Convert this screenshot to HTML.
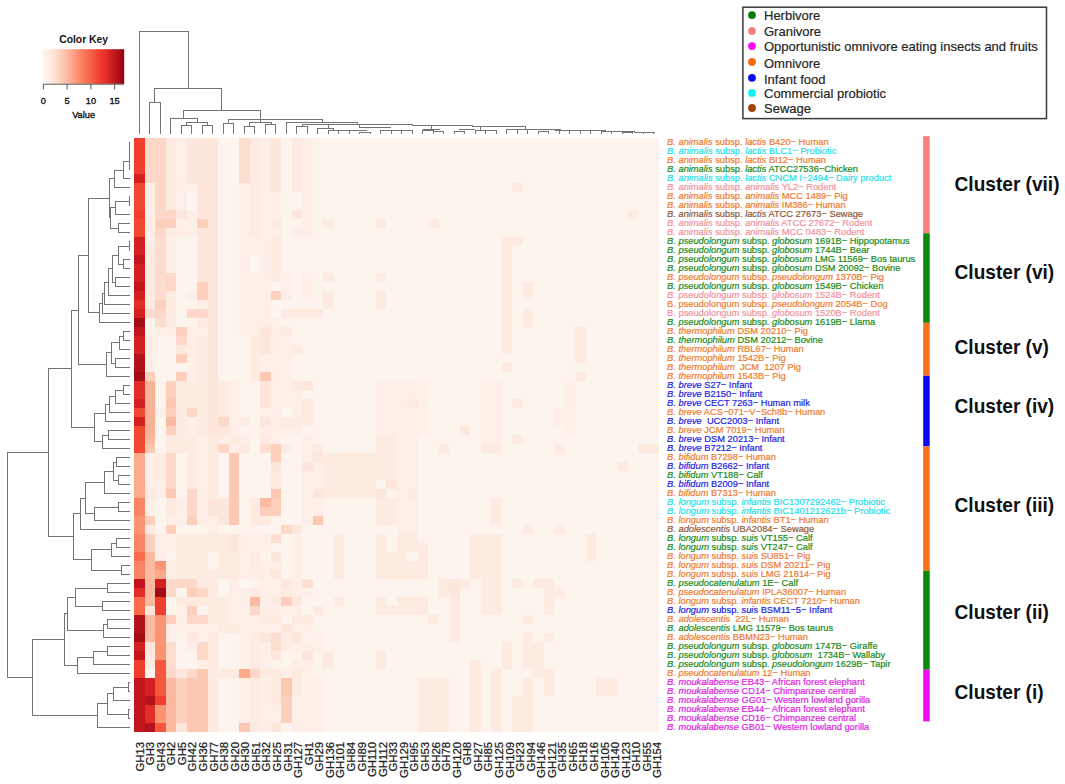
<!DOCTYPE html><html><head><meta charset="utf-8"><style>
html,body{margin:0;padding:0;background:#fff;width:1065px;height:784px;overflow:hidden}
svg{display:block} text{font-family:"Liberation Sans",sans-serif}
</style></head><body>
<svg width="1065" height="784" viewBox="0 0 1065 784">
<g shape-rendering="crispEdges">
<rect x="134.20" y="137.50" width="10.50" height="9.00" fill="#EF3E2E"/>
<rect x="144.70" y="137.50" width="21.01" height="9.00" fill="#FDD8C8"/>
<rect x="165.71" y="137.50" width="10.50" height="9.00" fill="#FDEAE1"/>
<rect x="176.22" y="137.50" width="10.50" height="9.00" fill="#FDEFE8"/>
<rect x="186.72" y="137.50" width="31.51" height="9.00" fill="#FDE6DB"/>
<rect x="218.23" y="137.50" width="21.01" height="9.00" fill="#FDF4EE"/>
<rect x="239.24" y="137.50" width="10.50" height="9.00" fill="#FDDDD0"/>
<rect x="249.74" y="137.50" width="10.50" height="9.00" fill="#FDEAE1"/>
<rect x="260.25" y="137.50" width="10.50" height="9.00" fill="#FDEFE8"/>
<rect x="270.75" y="137.50" width="10.50" height="9.00" fill="#FDE6DB"/>
<rect x="281.26" y="137.50" width="10.50" height="9.00" fill="#FDF4EE"/>
<rect x="291.76" y="137.50" width="10.50" height="9.00" fill="#FDEAE1"/>
<rect x="302.26" y="137.50" width="10.50" height="9.00" fill="#FDEFE8"/>
<rect x="312.77" y="137.50" width="346.63" height="9.00" fill="#FDF4EE"/>
<rect x="134.20" y="146.50" width="10.50" height="9.00" fill="#EF3E2E"/>
<rect x="144.70" y="146.50" width="21.01" height="9.00" fill="#FDD8C8"/>
<rect x="165.71" y="146.50" width="10.50" height="9.00" fill="#FDEAE1"/>
<rect x="176.22" y="146.50" width="10.50" height="9.00" fill="#FDEFE8"/>
<rect x="186.72" y="146.50" width="31.51" height="9.00" fill="#FDE6DB"/>
<rect x="218.23" y="146.50" width="21.01" height="9.00" fill="#FDF4EE"/>
<rect x="239.24" y="146.50" width="10.50" height="9.00" fill="#FDDDD0"/>
<rect x="249.74" y="146.50" width="10.50" height="9.00" fill="#FDEAE1"/>
<rect x="260.25" y="146.50" width="10.50" height="9.00" fill="#FDEFE8"/>
<rect x="270.75" y="146.50" width="10.50" height="9.00" fill="#FDE6DB"/>
<rect x="281.26" y="146.50" width="10.50" height="9.00" fill="#FDF4EE"/>
<rect x="291.76" y="146.50" width="10.50" height="9.00" fill="#FDEAE1"/>
<rect x="302.26" y="146.50" width="10.50" height="9.00" fill="#FDEFE8"/>
<rect x="312.77" y="146.50" width="346.63" height="9.00" fill="#FDF4EE"/>
<rect x="134.20" y="155.50" width="10.50" height="9.00" fill="#EF3E2E"/>
<rect x="144.70" y="155.50" width="21.01" height="9.00" fill="#FDD8C8"/>
<rect x="165.71" y="155.50" width="10.50" height="9.00" fill="#FDEAE1"/>
<rect x="176.22" y="155.50" width="10.50" height="9.00" fill="#FDEFE8"/>
<rect x="186.72" y="155.50" width="31.51" height="9.00" fill="#FDE6DB"/>
<rect x="218.23" y="155.50" width="21.01" height="9.00" fill="#FDF4EE"/>
<rect x="239.24" y="155.50" width="10.50" height="9.00" fill="#FDDDD0"/>
<rect x="249.74" y="155.50" width="10.50" height="9.00" fill="#FDEAE1"/>
<rect x="260.25" y="155.50" width="10.50" height="9.00" fill="#FDEFE8"/>
<rect x="270.75" y="155.50" width="10.50" height="9.00" fill="#FDE6DB"/>
<rect x="281.26" y="155.50" width="10.50" height="9.00" fill="#FDF4EE"/>
<rect x="291.76" y="155.50" width="10.50" height="9.00" fill="#FDEAE1"/>
<rect x="302.26" y="155.50" width="10.50" height="9.00" fill="#FDEFE8"/>
<rect x="312.77" y="155.50" width="346.63" height="9.00" fill="#FDF4EE"/>
<rect x="134.20" y="164.50" width="10.50" height="9.00" fill="#EF3E2E"/>
<rect x="144.70" y="164.50" width="21.01" height="9.00" fill="#FDD8C8"/>
<rect x="165.71" y="164.50" width="10.50" height="9.00" fill="#FDEAE1"/>
<rect x="176.22" y="164.50" width="10.50" height="9.00" fill="#FDEFE8"/>
<rect x="186.72" y="164.50" width="31.51" height="9.00" fill="#FDE6DB"/>
<rect x="218.23" y="164.50" width="21.01" height="9.00" fill="#FDF4EE"/>
<rect x="239.24" y="164.50" width="10.50" height="9.00" fill="#FDDDD0"/>
<rect x="249.74" y="164.50" width="10.50" height="9.00" fill="#FDEAE1"/>
<rect x="260.25" y="164.50" width="10.50" height="9.00" fill="#FDEFE8"/>
<rect x="270.75" y="164.50" width="10.50" height="9.00" fill="#FDE6DB"/>
<rect x="281.26" y="164.50" width="10.50" height="9.00" fill="#FDF4EE"/>
<rect x="291.76" y="164.50" width="10.50" height="9.00" fill="#FDEAE1"/>
<rect x="302.26" y="164.50" width="10.50" height="9.00" fill="#FDEFE8"/>
<rect x="312.77" y="164.50" width="346.63" height="9.00" fill="#FDF4EE"/>
<rect x="134.20" y="173.50" width="10.50" height="9.00" fill="#D32020"/>
<rect x="144.70" y="173.50" width="21.01" height="9.00" fill="#FDD8C8"/>
<rect x="165.71" y="173.50" width="10.50" height="9.00" fill="#FDEAE1"/>
<rect x="176.22" y="173.50" width="10.50" height="9.00" fill="#FDEFE8"/>
<rect x="186.72" y="173.50" width="31.51" height="9.00" fill="#FDE6DB"/>
<rect x="218.23" y="173.50" width="21.01" height="9.00" fill="#FDF4EE"/>
<rect x="239.24" y="173.50" width="10.50" height="9.00" fill="#FDDDD0"/>
<rect x="249.74" y="173.50" width="10.50" height="9.00" fill="#FDEAE1"/>
<rect x="260.25" y="173.50" width="10.50" height="9.00" fill="#FDEFE8"/>
<rect x="270.75" y="173.50" width="10.50" height="9.00" fill="#FDE6DB"/>
<rect x="281.26" y="173.50" width="10.50" height="9.00" fill="#FDF4EE"/>
<rect x="291.76" y="173.50" width="10.50" height="9.00" fill="#FDEAE1"/>
<rect x="302.26" y="173.50" width="10.50" height="9.00" fill="#FDEFE8"/>
<rect x="312.77" y="173.50" width="346.63" height="9.00" fill="#FDF4EE"/>
<rect x="134.20" y="182.50" width="10.50" height="9.00" fill="#F24830"/>
<rect x="144.70" y="182.50" width="10.50" height="9.00" fill="#FDEFE8"/>
<rect x="155.21" y="182.50" width="10.50" height="9.00" fill="#FDD8C8"/>
<rect x="165.71" y="182.50" width="10.50" height="9.00" fill="#FDEAE1"/>
<rect x="176.22" y="182.50" width="21.01" height="9.00" fill="#FDEFE8"/>
<rect x="197.22" y="182.50" width="21.01" height="9.00" fill="#FDE6DB"/>
<rect x="218.23" y="182.50" width="21.01" height="9.00" fill="#FDF4EE"/>
<rect x="239.24" y="182.50" width="10.50" height="9.00" fill="#FDEFE8"/>
<rect x="249.74" y="182.50" width="10.50" height="9.00" fill="#FDEAE1"/>
<rect x="260.25" y="182.50" width="10.50" height="9.00" fill="#FDEFE8"/>
<rect x="270.75" y="182.50" width="10.50" height="9.00" fill="#FDE6DB"/>
<rect x="281.26" y="182.50" width="10.50" height="9.00" fill="#FDF4EE"/>
<rect x="291.76" y="182.50" width="10.50" height="9.00" fill="#FDEAE1"/>
<rect x="302.26" y="182.50" width="10.50" height="9.00" fill="#FDEFE8"/>
<rect x="312.77" y="182.50" width="199.58" height="9.00" fill="#FDF4EE"/>
<rect x="512.34" y="182.50" width="10.50" height="9.00" fill="#FDEAE1"/>
<rect x="522.85" y="182.50" width="136.55" height="9.00" fill="#FDF4EE"/>
<rect x="134.20" y="191.50" width="10.50" height="9.00" fill="#F24830"/>
<rect x="144.70" y="191.50" width="10.50" height="9.00" fill="#FDEFE8"/>
<rect x="155.21" y="191.50" width="10.50" height="9.00" fill="#FDD8C8"/>
<rect x="165.71" y="191.50" width="10.50" height="9.00" fill="#FDEAE1"/>
<rect x="176.22" y="191.50" width="10.50" height="9.00" fill="#FDEFE8"/>
<rect x="186.72" y="191.50" width="10.50" height="9.00" fill="#FFF6F2"/>
<rect x="197.22" y="191.50" width="21.01" height="9.00" fill="#FDE6DB"/>
<rect x="218.23" y="191.50" width="21.01" height="9.00" fill="#FDF4EE"/>
<rect x="239.24" y="191.50" width="10.50" height="9.00" fill="#FDEFE8"/>
<rect x="249.74" y="191.50" width="10.50" height="9.00" fill="#FDEAE1"/>
<rect x="260.25" y="191.50" width="21.01" height="9.00" fill="#FDEFE8"/>
<rect x="281.26" y="191.50" width="21.01" height="9.00" fill="#FDF4EE"/>
<rect x="302.26" y="191.50" width="10.50" height="9.00" fill="#FDEFE8"/>
<rect x="312.77" y="191.50" width="346.63" height="9.00" fill="#FDF4EE"/>
<rect x="134.20" y="200.50" width="10.50" height="9.00" fill="#F24830"/>
<rect x="144.70" y="200.50" width="10.50" height="9.00" fill="#FDEFE8"/>
<rect x="155.21" y="200.50" width="10.50" height="9.00" fill="#FDD8C8"/>
<rect x="165.71" y="200.50" width="10.50" height="9.00" fill="#FDEAE1"/>
<rect x="176.22" y="200.50" width="10.50" height="9.00" fill="#FDEFE8"/>
<rect x="186.72" y="200.50" width="10.50" height="9.00" fill="#FFF6F2"/>
<rect x="197.22" y="200.50" width="21.01" height="9.00" fill="#FDE6DB"/>
<rect x="218.23" y="200.50" width="21.01" height="9.00" fill="#FDF4EE"/>
<rect x="239.24" y="200.50" width="10.50" height="9.00" fill="#FDEFE8"/>
<rect x="249.74" y="200.50" width="10.50" height="9.00" fill="#FDEAE1"/>
<rect x="260.25" y="200.50" width="21.01" height="9.00" fill="#FDEFE8"/>
<rect x="281.26" y="200.50" width="21.01" height="9.00" fill="#FDF4EE"/>
<rect x="302.26" y="200.50" width="10.50" height="9.00" fill="#FDEFE8"/>
<rect x="312.77" y="200.50" width="346.63" height="9.00" fill="#FDF4EE"/>
<rect x="134.20" y="209.50" width="10.50" height="9.00" fill="#EF3E2E"/>
<rect x="144.70" y="209.50" width="10.50" height="9.00" fill="#FDEFE8"/>
<rect x="155.21" y="209.50" width="21.01" height="9.00" fill="#FDD8C8"/>
<rect x="176.22" y="209.50" width="10.50" height="9.00" fill="#FDE6DB"/>
<rect x="186.72" y="209.50" width="10.50" height="9.00" fill="#FDEFE8"/>
<rect x="197.22" y="209.50" width="21.01" height="9.00" fill="#FDE6DB"/>
<rect x="218.23" y="209.50" width="21.01" height="9.00" fill="#FDF4EE"/>
<rect x="239.24" y="209.50" width="10.50" height="9.00" fill="#FDEFE8"/>
<rect x="249.74" y="209.50" width="10.50" height="9.00" fill="#FDEAE1"/>
<rect x="260.25" y="209.50" width="21.01" height="9.00" fill="#FDEFE8"/>
<rect x="281.26" y="209.50" width="10.50" height="9.00" fill="#FDF4EE"/>
<rect x="291.76" y="209.50" width="10.50" height="9.00" fill="#FDE6DB"/>
<rect x="302.26" y="209.50" width="10.50" height="9.00" fill="#FDEFE8"/>
<rect x="312.77" y="209.50" width="315.12" height="9.00" fill="#FDF4EE"/>
<rect x="627.89" y="209.50" width="10.50" height="9.00" fill="#FDEAE1"/>
<rect x="638.39" y="209.50" width="21.01" height="9.00" fill="#FDF4EE"/>
<rect x="134.20" y="218.50" width="10.50" height="9.00" fill="#F24830"/>
<rect x="144.70" y="218.50" width="10.50" height="9.00" fill="#FDEFE8"/>
<rect x="155.21" y="218.50" width="21.01" height="9.00" fill="#FCD0BD"/>
<rect x="176.22" y="218.50" width="21.01" height="9.00" fill="#FDEFE8"/>
<rect x="197.22" y="218.50" width="10.50" height="9.00" fill="#FCD0BD"/>
<rect x="207.73" y="218.50" width="10.50" height="9.00" fill="#FDE6DB"/>
<rect x="218.23" y="218.50" width="21.01" height="9.00" fill="#FDF4EE"/>
<rect x="239.24" y="218.50" width="10.50" height="9.00" fill="#FDEFE8"/>
<rect x="249.74" y="218.50" width="10.50" height="9.00" fill="#FDEAE1"/>
<rect x="260.25" y="218.50" width="10.50" height="9.00" fill="#FDEFE8"/>
<rect x="270.75" y="218.50" width="10.50" height="9.00" fill="#FDEAE1"/>
<rect x="281.26" y="218.50" width="21.01" height="9.00" fill="#FDF4EE"/>
<rect x="302.26" y="218.50" width="10.50" height="9.00" fill="#FDEFE8"/>
<rect x="312.77" y="218.50" width="10.50" height="9.00" fill="#FDF4EE"/>
<rect x="323.27" y="218.50" width="10.50" height="9.00" fill="#FDEAE1"/>
<rect x="333.78" y="218.50" width="42.02" height="9.00" fill="#FDF4EE"/>
<rect x="375.79" y="218.50" width="10.50" height="9.00" fill="#FDEAE1"/>
<rect x="386.30" y="218.50" width="42.02" height="9.00" fill="#FDF4EE"/>
<rect x="428.31" y="218.50" width="10.50" height="9.00" fill="#FDEAE1"/>
<rect x="438.82" y="218.50" width="220.58" height="9.00" fill="#FDF4EE"/>
<rect x="134.20" y="227.50" width="10.50" height="9.00" fill="#F24830"/>
<rect x="144.70" y="227.50" width="10.50" height="9.00" fill="#FDEFE8"/>
<rect x="155.21" y="227.50" width="10.50" height="9.00" fill="#FDD8C8"/>
<rect x="165.71" y="227.50" width="10.50" height="9.00" fill="#FDEAE1"/>
<rect x="176.22" y="227.50" width="21.01" height="9.00" fill="#FDEFE8"/>
<rect x="197.22" y="227.50" width="21.01" height="9.00" fill="#FDE6DB"/>
<rect x="218.23" y="227.50" width="21.01" height="9.00" fill="#FDF4EE"/>
<rect x="239.24" y="227.50" width="10.50" height="9.00" fill="#FDEFE8"/>
<rect x="249.74" y="227.50" width="10.50" height="9.00" fill="#FDEAE1"/>
<rect x="260.25" y="227.50" width="21.01" height="9.00" fill="#FDEFE8"/>
<rect x="281.26" y="227.50" width="10.50" height="9.00" fill="#FDF4EE"/>
<rect x="291.76" y="227.50" width="21.01" height="9.00" fill="#FDEFE8"/>
<rect x="312.77" y="227.50" width="346.63" height="9.00" fill="#FDF4EE"/>
<rect x="134.20" y="236.50" width="10.50" height="9.00" fill="#D32020"/>
<rect x="144.70" y="236.50" width="10.50" height="9.00" fill="#FDEFE8"/>
<rect x="155.21" y="236.50" width="10.50" height="9.00" fill="#FDDDD0"/>
<rect x="165.71" y="236.50" width="10.50" height="9.00" fill="#FDEFE8"/>
<rect x="176.22" y="236.50" width="21.01" height="9.00" fill="#FDF4EE"/>
<rect x="197.22" y="236.50" width="21.01" height="9.00" fill="#FDE6DB"/>
<rect x="218.23" y="236.50" width="21.01" height="9.00" fill="#FDF4EE"/>
<rect x="239.24" y="236.50" width="31.51" height="9.00" fill="#FDEFE8"/>
<rect x="270.75" y="236.50" width="10.50" height="9.00" fill="#FDEAE1"/>
<rect x="281.26" y="236.50" width="220.58" height="9.00" fill="#FDF4EE"/>
<rect x="501.84" y="236.50" width="21.01" height="9.00" fill="#FDEAE1"/>
<rect x="522.85" y="236.50" width="136.55" height="9.00" fill="#FDF4EE"/>
<rect x="134.20" y="245.50" width="10.50" height="9.00" fill="#D32020"/>
<rect x="144.70" y="245.50" width="10.50" height="9.00" fill="#FDEAE1"/>
<rect x="155.21" y="245.50" width="10.50" height="9.00" fill="#FDDDD0"/>
<rect x="165.71" y="245.50" width="10.50" height="9.00" fill="#FDEFE8"/>
<rect x="176.22" y="245.50" width="21.01" height="9.00" fill="#FDF4EE"/>
<rect x="197.22" y="245.50" width="21.01" height="9.00" fill="#FDE6DB"/>
<rect x="218.23" y="245.50" width="21.01" height="9.00" fill="#FDF4EE"/>
<rect x="239.24" y="245.50" width="31.51" height="9.00" fill="#FDEFE8"/>
<rect x="270.75" y="245.50" width="10.50" height="9.00" fill="#FDEAE1"/>
<rect x="281.26" y="245.50" width="220.58" height="9.00" fill="#FDF4EE"/>
<rect x="501.84" y="245.50" width="10.50" height="9.00" fill="#FDEAE1"/>
<rect x="512.34" y="245.50" width="147.06" height="9.00" fill="#FDF4EE"/>
<rect x="134.20" y="254.50" width="10.50" height="9.00" fill="#C2161C"/>
<rect x="144.70" y="254.50" width="10.50" height="9.00" fill="#FDEAE1"/>
<rect x="155.21" y="254.50" width="10.50" height="9.00" fill="#FDDDD0"/>
<rect x="165.71" y="254.50" width="10.50" height="9.00" fill="#FDEFE8"/>
<rect x="176.22" y="254.50" width="21.01" height="9.00" fill="#FDF4EE"/>
<rect x="197.22" y="254.50" width="21.01" height="9.00" fill="#FDE6DB"/>
<rect x="218.23" y="254.50" width="21.01" height="9.00" fill="#FDF4EE"/>
<rect x="239.24" y="254.50" width="10.50" height="9.00" fill="#FDEFE8"/>
<rect x="249.74" y="254.50" width="10.50" height="9.00" fill="#FFF6F2"/>
<rect x="260.25" y="254.50" width="10.50" height="9.00" fill="#FDEFE8"/>
<rect x="270.75" y="254.50" width="10.50" height="9.00" fill="#FDEAE1"/>
<rect x="281.26" y="254.50" width="220.58" height="9.00" fill="#FDF4EE"/>
<rect x="501.84" y="254.50" width="10.50" height="9.00" fill="#FDEAE1"/>
<rect x="512.34" y="254.50" width="147.06" height="9.00" fill="#FDF4EE"/>
<rect x="134.20" y="263.50" width="10.50" height="9.00" fill="#D32020"/>
<rect x="144.70" y="263.50" width="10.50" height="9.00" fill="#FDEAE1"/>
<rect x="155.21" y="263.50" width="10.50" height="9.00" fill="#FDDDD0"/>
<rect x="165.71" y="263.50" width="10.50" height="9.00" fill="#FDEFE8"/>
<rect x="176.22" y="263.50" width="21.01" height="9.00" fill="#FDF4EE"/>
<rect x="197.22" y="263.50" width="21.01" height="9.00" fill="#FDE6DB"/>
<rect x="218.23" y="263.50" width="21.01" height="9.00" fill="#FDF4EE"/>
<rect x="239.24" y="263.50" width="10.50" height="9.00" fill="#FDEFE8"/>
<rect x="249.74" y="263.50" width="10.50" height="9.00" fill="#FFF6F2"/>
<rect x="260.25" y="263.50" width="10.50" height="9.00" fill="#FDEFE8"/>
<rect x="270.75" y="263.50" width="10.50" height="9.00" fill="#FDEAE1"/>
<rect x="281.26" y="263.50" width="220.58" height="9.00" fill="#FDF4EE"/>
<rect x="501.84" y="263.50" width="10.50" height="9.00" fill="#FDEAE1"/>
<rect x="512.34" y="263.50" width="147.06" height="9.00" fill="#FDF4EE"/>
<rect x="134.20" y="272.50" width="10.50" height="9.00" fill="#D32020"/>
<rect x="144.70" y="272.50" width="10.50" height="9.00" fill="#FDEAE1"/>
<rect x="155.21" y="272.50" width="10.50" height="9.00" fill="#FDDDD0"/>
<rect x="165.71" y="272.50" width="10.50" height="9.00" fill="#FDD8C8"/>
<rect x="176.22" y="272.50" width="21.01" height="9.00" fill="#FDF4EE"/>
<rect x="197.22" y="272.50" width="21.01" height="9.00" fill="#FDE6DB"/>
<rect x="218.23" y="272.50" width="21.01" height="9.00" fill="#FDF4EE"/>
<rect x="239.24" y="272.50" width="31.51" height="9.00" fill="#FDEFE8"/>
<rect x="270.75" y="272.50" width="10.50" height="9.00" fill="#FDEAE1"/>
<rect x="281.26" y="272.50" width="10.50" height="9.00" fill="#FDEFE8"/>
<rect x="291.76" y="272.50" width="10.50" height="9.00" fill="#FDF4EE"/>
<rect x="302.26" y="272.50" width="10.50" height="9.00" fill="#FDEFE8"/>
<rect x="312.77" y="272.50" width="10.50" height="9.00" fill="#FDF4EE"/>
<rect x="323.27" y="272.50" width="10.50" height="9.00" fill="#FDEAE1"/>
<rect x="333.78" y="272.50" width="42.02" height="9.00" fill="#FDF4EE"/>
<rect x="375.79" y="272.50" width="10.50" height="9.00" fill="#FDEAE1"/>
<rect x="386.30" y="272.50" width="115.54" height="9.00" fill="#FDF4EE"/>
<rect x="501.84" y="272.50" width="10.50" height="9.00" fill="#FDEAE1"/>
<rect x="512.34" y="272.50" width="147.06" height="9.00" fill="#FDF4EE"/>
<rect x="134.20" y="281.50" width="10.50" height="9.00" fill="#C2161C"/>
<rect x="144.70" y="281.50" width="10.50" height="9.00" fill="#FDEAE1"/>
<rect x="155.21" y="281.50" width="10.50" height="9.00" fill="#FDDDD0"/>
<rect x="165.71" y="281.50" width="10.50" height="9.00" fill="#FDD8C8"/>
<rect x="176.22" y="281.50" width="21.01" height="9.00" fill="#FDF4EE"/>
<rect x="197.22" y="281.50" width="10.50" height="9.00" fill="#FCD0BD"/>
<rect x="207.73" y="281.50" width="10.50" height="9.00" fill="#FDE6DB"/>
<rect x="218.23" y="281.50" width="21.01" height="9.00" fill="#FDF4EE"/>
<rect x="239.24" y="281.50" width="31.51" height="9.00" fill="#FDEFE8"/>
<rect x="270.75" y="281.50" width="10.50" height="9.00" fill="#FFF6F2"/>
<rect x="281.26" y="281.50" width="10.50" height="9.00" fill="#FDEFE8"/>
<rect x="291.76" y="281.50" width="10.50" height="9.00" fill="#FDF4EE"/>
<rect x="302.26" y="281.50" width="10.50" height="9.00" fill="#FDEFE8"/>
<rect x="312.77" y="281.50" width="189.07" height="9.00" fill="#FDF4EE"/>
<rect x="501.84" y="281.50" width="10.50" height="9.00" fill="#FDEAE1"/>
<rect x="512.34" y="281.50" width="10.50" height="9.00" fill="#FDF4EE"/>
<rect x="522.85" y="281.50" width="10.50" height="9.00" fill="#FDEAE1"/>
<rect x="533.35" y="281.50" width="126.05" height="9.00" fill="#FDF4EE"/>
<rect x="134.20" y="290.50" width="10.50" height="9.00" fill="#D32020"/>
<rect x="144.70" y="290.50" width="10.50" height="9.00" fill="#FDEAE1"/>
<rect x="155.21" y="290.50" width="10.50" height="9.00" fill="#FDDDD0"/>
<rect x="165.71" y="290.50" width="10.50" height="9.00" fill="#FDEAE1"/>
<rect x="176.22" y="290.50" width="10.50" height="9.00" fill="#FDF4EE"/>
<rect x="186.72" y="290.50" width="10.50" height="9.00" fill="#FDEFE8"/>
<rect x="197.22" y="290.50" width="10.50" height="9.00" fill="#FCD0BD"/>
<rect x="207.73" y="290.50" width="10.50" height="9.00" fill="#FDE6DB"/>
<rect x="218.23" y="290.50" width="21.01" height="9.00" fill="#FDF4EE"/>
<rect x="239.24" y="290.50" width="31.51" height="9.00" fill="#FDEFE8"/>
<rect x="270.75" y="290.50" width="10.50" height="9.00" fill="#FCD0BD"/>
<rect x="281.26" y="290.50" width="10.50" height="9.00" fill="#FDEFE8"/>
<rect x="291.76" y="290.50" width="10.50" height="9.00" fill="#FDF4EE"/>
<rect x="302.26" y="290.50" width="10.50" height="9.00" fill="#FDEFE8"/>
<rect x="312.77" y="290.50" width="10.50" height="9.00" fill="#FDF4EE"/>
<rect x="323.27" y="290.50" width="10.50" height="9.00" fill="#FDEAE1"/>
<rect x="333.78" y="290.50" width="42.02" height="9.00" fill="#FDF4EE"/>
<rect x="375.79" y="290.50" width="10.50" height="9.00" fill="#FDEAE1"/>
<rect x="386.30" y="290.50" width="115.54" height="9.00" fill="#FDF4EE"/>
<rect x="501.84" y="290.50" width="10.50" height="9.00" fill="#FDEAE1"/>
<rect x="512.34" y="290.50" width="10.50" height="9.00" fill="#FDF4EE"/>
<rect x="522.85" y="290.50" width="10.50" height="9.00" fill="#FDEAE1"/>
<rect x="533.35" y="290.50" width="126.05" height="9.00" fill="#FDF4EE"/>
<rect x="134.20" y="299.50" width="10.50" height="9.00" fill="#E22E27"/>
<rect x="144.70" y="299.50" width="10.50" height="9.00" fill="#FDEAE1"/>
<rect x="155.21" y="299.50" width="10.50" height="9.00" fill="#FCD0BD"/>
<rect x="165.71" y="299.50" width="10.50" height="9.00" fill="#FDEAE1"/>
<rect x="176.22" y="299.50" width="21.01" height="9.00" fill="#FDF4EE"/>
<rect x="197.22" y="299.50" width="10.50" height="9.00" fill="#FDEFE8"/>
<rect x="207.73" y="299.50" width="10.50" height="9.00" fill="#FDE6DB"/>
<rect x="218.23" y="299.50" width="21.01" height="9.00" fill="#FDF4EE"/>
<rect x="239.24" y="299.50" width="31.51" height="9.00" fill="#FDEFE8"/>
<rect x="270.75" y="299.50" width="10.50" height="9.00" fill="#FFF6F2"/>
<rect x="281.26" y="299.50" width="42.02" height="9.00" fill="#FDF4EE"/>
<rect x="323.27" y="299.50" width="10.50" height="9.00" fill="#FDEAE1"/>
<rect x="333.78" y="299.50" width="42.02" height="9.00" fill="#FDF4EE"/>
<rect x="375.79" y="299.50" width="10.50" height="9.00" fill="#FDEAE1"/>
<rect x="386.30" y="299.50" width="115.54" height="9.00" fill="#FDF4EE"/>
<rect x="501.84" y="299.50" width="10.50" height="9.00" fill="#FDEAE1"/>
<rect x="512.34" y="299.50" width="147.06" height="9.00" fill="#FDF4EE"/>
<rect x="134.20" y="308.50" width="10.50" height="9.00" fill="#D32020"/>
<rect x="144.70" y="308.50" width="10.50" height="9.00" fill="#FDDDD0"/>
<rect x="155.21" y="308.50" width="10.50" height="9.00" fill="#FDD8C8"/>
<rect x="165.71" y="308.50" width="10.50" height="9.00" fill="#FDEAE1"/>
<rect x="176.22" y="308.50" width="10.50" height="9.00" fill="#FDF4EE"/>
<rect x="186.72" y="308.50" width="21.01" height="9.00" fill="#FDD8C8"/>
<rect x="207.73" y="308.50" width="10.50" height="9.00" fill="#FDE6DB"/>
<rect x="218.23" y="308.50" width="21.01" height="9.00" fill="#FDF4EE"/>
<rect x="239.24" y="308.50" width="31.51" height="9.00" fill="#FDEFE8"/>
<rect x="270.75" y="308.50" width="10.50" height="9.00" fill="#FFF6F2"/>
<rect x="281.26" y="308.50" width="42.02" height="9.00" fill="#FDEAE1"/>
<rect x="323.27" y="308.50" width="178.57" height="9.00" fill="#FDF4EE"/>
<rect x="501.84" y="308.50" width="10.50" height="9.00" fill="#FDEAE1"/>
<rect x="512.34" y="308.50" width="10.50" height="9.00" fill="#FDF4EE"/>
<rect x="522.85" y="308.50" width="10.50" height="9.00" fill="#FDEAE1"/>
<rect x="533.35" y="308.50" width="126.05" height="9.00" fill="#FDF4EE"/>
<rect x="134.20" y="317.50" width="10.50" height="9.00" fill="#A30D15"/>
<rect x="144.70" y="317.50" width="10.50" height="9.00" fill="#FDF4EE"/>
<rect x="155.21" y="317.50" width="10.50" height="9.00" fill="#FDDDD0"/>
<rect x="165.71" y="317.50" width="10.50" height="9.00" fill="#FDEAE1"/>
<rect x="176.22" y="317.50" width="21.01" height="9.00" fill="#FDF4EE"/>
<rect x="197.22" y="317.50" width="10.50" height="9.00" fill="#FDEAE1"/>
<rect x="207.73" y="317.50" width="10.50" height="9.00" fill="#FDE6DB"/>
<rect x="218.23" y="317.50" width="21.01" height="9.00" fill="#FDF4EE"/>
<rect x="239.24" y="317.50" width="42.02" height="9.00" fill="#FDEFE8"/>
<rect x="281.26" y="317.50" width="220.58" height="9.00" fill="#FDF4EE"/>
<rect x="501.84" y="317.50" width="10.50" height="9.00" fill="#FDEAE1"/>
<rect x="512.34" y="317.50" width="10.50" height="9.00" fill="#FDF4EE"/>
<rect x="522.85" y="317.50" width="10.50" height="9.00" fill="#FDEAE1"/>
<rect x="533.35" y="317.50" width="126.05" height="9.00" fill="#FDF4EE"/>
<rect x="134.20" y="326.50" width="10.50" height="9.00" fill="#C2161C"/>
<rect x="144.70" y="326.50" width="10.50" height="9.00" fill="#FDF4EE"/>
<rect x="155.21" y="326.50" width="21.01" height="9.00" fill="#FDEFE8"/>
<rect x="176.22" y="326.50" width="10.50" height="9.00" fill="#FCD0BD"/>
<rect x="186.72" y="326.50" width="21.01" height="9.00" fill="#FDEFE8"/>
<rect x="207.73" y="326.50" width="10.50" height="9.00" fill="#FDE6DB"/>
<rect x="218.23" y="326.50" width="21.01" height="9.00" fill="#FDF4EE"/>
<rect x="239.24" y="326.50" width="21.01" height="9.00" fill="#FDEFE8"/>
<rect x="260.25" y="326.50" width="10.50" height="9.00" fill="#FDE6DB"/>
<rect x="270.75" y="326.50" width="10.50" height="9.00" fill="#FDEFE8"/>
<rect x="281.26" y="326.50" width="10.50" height="9.00" fill="#FDEAE1"/>
<rect x="291.76" y="326.50" width="210.08" height="9.00" fill="#FDF4EE"/>
<rect x="501.84" y="326.50" width="10.50" height="9.00" fill="#FDEAE1"/>
<rect x="512.34" y="326.50" width="63.02" height="9.00" fill="#FDF4EE"/>
<rect x="575.37" y="326.50" width="10.50" height="9.00" fill="#FDEAE1"/>
<rect x="585.87" y="326.50" width="73.53" height="9.00" fill="#FDF4EE"/>
<rect x="134.20" y="335.50" width="10.50" height="9.00" fill="#D32020"/>
<rect x="144.70" y="335.50" width="10.50" height="9.00" fill="#FDEFE8"/>
<rect x="155.21" y="335.50" width="21.01" height="9.00" fill="#FDF4EE"/>
<rect x="176.22" y="335.50" width="10.50" height="9.00" fill="#FDD8C8"/>
<rect x="186.72" y="335.50" width="10.50" height="9.00" fill="#FDEFE8"/>
<rect x="197.22" y="335.50" width="10.50" height="9.00" fill="#FDEAE1"/>
<rect x="207.73" y="335.50" width="10.50" height="9.00" fill="#FDE6DB"/>
<rect x="218.23" y="335.50" width="31.51" height="9.00" fill="#FDF4EE"/>
<rect x="249.74" y="335.50" width="10.50" height="9.00" fill="#FDEAE1"/>
<rect x="260.25" y="335.50" width="10.50" height="9.00" fill="#FDE6DB"/>
<rect x="270.75" y="335.50" width="21.01" height="9.00" fill="#FDEFE8"/>
<rect x="291.76" y="335.50" width="210.08" height="9.00" fill="#FDF4EE"/>
<rect x="501.84" y="335.50" width="10.50" height="9.00" fill="#FDEAE1"/>
<rect x="512.34" y="335.50" width="63.02" height="9.00" fill="#FDF4EE"/>
<rect x="575.37" y="335.50" width="10.50" height="9.00" fill="#FDEAE1"/>
<rect x="585.87" y="335.50" width="73.53" height="9.00" fill="#FDF4EE"/>
<rect x="134.20" y="344.50" width="10.50" height="9.00" fill="#D32020"/>
<rect x="144.70" y="344.50" width="10.50" height="9.00" fill="#FDEFE8"/>
<rect x="155.21" y="344.50" width="21.01" height="9.00" fill="#FDF4EE"/>
<rect x="176.22" y="344.50" width="10.50" height="9.00" fill="#FDEAE1"/>
<rect x="186.72" y="344.50" width="10.50" height="9.00" fill="#FDEFE8"/>
<rect x="197.22" y="344.50" width="10.50" height="9.00" fill="#FDEAE1"/>
<rect x="207.73" y="344.50" width="10.50" height="9.00" fill="#FDE6DB"/>
<rect x="218.23" y="344.50" width="31.51" height="9.00" fill="#FDF4EE"/>
<rect x="249.74" y="344.50" width="10.50" height="9.00" fill="#FDEAE1"/>
<rect x="260.25" y="344.50" width="10.50" height="9.00" fill="#FDE6DB"/>
<rect x="270.75" y="344.50" width="21.01" height="9.00" fill="#FDEFE8"/>
<rect x="291.76" y="344.50" width="10.50" height="9.00" fill="#FDEAE1"/>
<rect x="302.26" y="344.50" width="199.58" height="9.00" fill="#FDF4EE"/>
<rect x="501.84" y="344.50" width="10.50" height="9.00" fill="#FDEAE1"/>
<rect x="512.34" y="344.50" width="63.02" height="9.00" fill="#FDF4EE"/>
<rect x="575.37" y="344.50" width="10.50" height="9.00" fill="#FDEAE1"/>
<rect x="585.87" y="344.50" width="73.53" height="9.00" fill="#FDF4EE"/>
<rect x="134.20" y="353.50" width="10.50" height="9.00" fill="#B21219"/>
<rect x="144.70" y="353.50" width="10.50" height="9.00" fill="#FDEFE8"/>
<rect x="155.21" y="353.50" width="21.01" height="9.00" fill="#FDF4EE"/>
<rect x="176.22" y="353.50" width="10.50" height="9.00" fill="#FCD0BD"/>
<rect x="186.72" y="353.50" width="10.50" height="9.00" fill="#FDEFE8"/>
<rect x="197.22" y="353.50" width="10.50" height="9.00" fill="#FDEAE1"/>
<rect x="207.73" y="353.50" width="10.50" height="9.00" fill="#FDE6DB"/>
<rect x="218.23" y="353.50" width="31.51" height="9.00" fill="#FDF4EE"/>
<rect x="249.74" y="353.50" width="10.50" height="9.00" fill="#FDEAE1"/>
<rect x="260.25" y="353.50" width="31.51" height="9.00" fill="#FDEFE8"/>
<rect x="291.76" y="353.50" width="283.61" height="9.00" fill="#FDF4EE"/>
<rect x="575.37" y="353.50" width="10.50" height="9.00" fill="#FDEAE1"/>
<rect x="585.87" y="353.50" width="73.53" height="9.00" fill="#FDF4EE"/>
<rect x="134.20" y="362.50" width="10.50" height="9.00" fill="#B21219"/>
<rect x="144.70" y="362.50" width="10.50" height="9.00" fill="#FDEFE8"/>
<rect x="155.21" y="362.50" width="31.51" height="9.00" fill="#FDF4EE"/>
<rect x="186.72" y="362.50" width="10.50" height="9.00" fill="#FDEFE8"/>
<rect x="197.22" y="362.50" width="10.50" height="9.00" fill="#FDEAE1"/>
<rect x="207.73" y="362.50" width="10.50" height="9.00" fill="#FDE6DB"/>
<rect x="218.23" y="362.50" width="31.51" height="9.00" fill="#FDF4EE"/>
<rect x="249.74" y="362.50" width="10.50" height="9.00" fill="#FDEAE1"/>
<rect x="260.25" y="362.50" width="31.51" height="9.00" fill="#FDEFE8"/>
<rect x="291.76" y="362.50" width="210.08" height="9.00" fill="#FDF4EE"/>
<rect x="501.84" y="362.50" width="10.50" height="9.00" fill="#FDEAE1"/>
<rect x="512.34" y="362.50" width="147.06" height="9.00" fill="#FDF4EE"/>
<rect x="134.20" y="371.50" width="10.50" height="9.00" fill="#A30D15"/>
<rect x="144.70" y="371.50" width="10.50" height="9.00" fill="#FCD0BD"/>
<rect x="155.21" y="371.50" width="21.01" height="9.00" fill="#FDF4EE"/>
<rect x="176.22" y="371.50" width="10.50" height="9.00" fill="#FCD0BD"/>
<rect x="186.72" y="371.50" width="10.50" height="9.00" fill="#FDEFE8"/>
<rect x="197.22" y="371.50" width="10.50" height="9.00" fill="#FDEAE1"/>
<rect x="207.73" y="371.50" width="10.50" height="9.00" fill="#FDE6DB"/>
<rect x="218.23" y="371.50" width="31.51" height="9.00" fill="#FDF4EE"/>
<rect x="249.74" y="371.50" width="10.50" height="9.00" fill="#FDEAE1"/>
<rect x="260.25" y="371.50" width="10.50" height="9.00" fill="#FCC8B2"/>
<rect x="270.75" y="371.50" width="21.01" height="9.00" fill="#FDEFE8"/>
<rect x="291.76" y="371.50" width="283.61" height="9.00" fill="#FDF4EE"/>
<rect x="575.37" y="371.50" width="10.50" height="9.00" fill="#FDEAE1"/>
<rect x="585.87" y="371.50" width="73.53" height="9.00" fill="#FDF4EE"/>
<rect x="134.20" y="380.50" width="10.50" height="9.00" fill="#E22E27"/>
<rect x="144.70" y="380.50" width="10.50" height="9.00" fill="#FCB296"/>
<rect x="155.21" y="380.50" width="10.50" height="9.00" fill="#FDF4EE"/>
<rect x="165.71" y="380.50" width="10.50" height="9.00" fill="#FCD0BD"/>
<rect x="176.22" y="380.50" width="31.51" height="9.00" fill="#FDEAE1"/>
<rect x="207.73" y="380.50" width="10.50" height="9.00" fill="#FDE6DB"/>
<rect x="218.23" y="380.50" width="10.50" height="9.00" fill="#FDEAE1"/>
<rect x="228.74" y="380.50" width="10.50" height="9.00" fill="#FDEFE8"/>
<rect x="239.24" y="380.50" width="21.01" height="9.00" fill="#FDF4EE"/>
<rect x="260.25" y="380.50" width="10.50" height="9.00" fill="#FDE6DB"/>
<rect x="270.75" y="380.50" width="21.01" height="9.00" fill="#FDEFE8"/>
<rect x="291.76" y="380.50" width="10.50" height="9.00" fill="#FDEAE1"/>
<rect x="302.26" y="380.50" width="10.50" height="9.00" fill="#FDE6DB"/>
<rect x="312.77" y="380.50" width="63.02" height="9.00" fill="#FDF4EE"/>
<rect x="375.79" y="380.50" width="52.52" height="9.00" fill="#FDEFE8"/>
<rect x="428.31" y="380.50" width="52.52" height="9.00" fill="#FDF4EE"/>
<rect x="480.83" y="380.50" width="21.01" height="9.00" fill="#FDEFE8"/>
<rect x="501.84" y="380.50" width="63.02" height="9.00" fill="#FDF4EE"/>
<rect x="564.86" y="380.50" width="10.50" height="9.00" fill="#FDEFE8"/>
<rect x="575.37" y="380.50" width="84.03" height="9.00" fill="#FDF4EE"/>
<rect x="134.20" y="389.50" width="10.50" height="9.00" fill="#E22E27"/>
<rect x="144.70" y="389.50" width="10.50" height="9.00" fill="#FCB296"/>
<rect x="155.21" y="389.50" width="10.50" height="9.00" fill="#FDF4EE"/>
<rect x="165.71" y="389.50" width="10.50" height="9.00" fill="#FCD0BD"/>
<rect x="176.22" y="389.50" width="31.51" height="9.00" fill="#FDEAE1"/>
<rect x="207.73" y="389.50" width="10.50" height="9.00" fill="#FDE6DB"/>
<rect x="218.23" y="389.50" width="10.50" height="9.00" fill="#FDEAE1"/>
<rect x="228.74" y="389.50" width="10.50" height="9.00" fill="#FDEFE8"/>
<rect x="239.24" y="389.50" width="21.01" height="9.00" fill="#FDF4EE"/>
<rect x="260.25" y="389.50" width="10.50" height="9.00" fill="#FDE6DB"/>
<rect x="270.75" y="389.50" width="31.51" height="9.00" fill="#FDEFE8"/>
<rect x="302.26" y="389.50" width="73.53" height="9.00" fill="#FDF4EE"/>
<rect x="375.79" y="389.50" width="52.52" height="9.00" fill="#FDEFE8"/>
<rect x="428.31" y="389.50" width="52.52" height="9.00" fill="#FDF4EE"/>
<rect x="480.83" y="389.50" width="21.01" height="9.00" fill="#FDEFE8"/>
<rect x="501.84" y="389.50" width="63.02" height="9.00" fill="#FDF4EE"/>
<rect x="564.86" y="389.50" width="10.50" height="9.00" fill="#FDEFE8"/>
<rect x="575.37" y="389.50" width="84.03" height="9.00" fill="#FDF4EE"/>
<rect x="134.20" y="398.50" width="10.50" height="9.00" fill="#D32020"/>
<rect x="144.70" y="398.50" width="10.50" height="9.00" fill="#FCB296"/>
<rect x="155.21" y="398.50" width="10.50" height="9.00" fill="#FDF4EE"/>
<rect x="165.71" y="398.50" width="10.50" height="9.00" fill="#FCC8B2"/>
<rect x="176.22" y="398.50" width="31.51" height="9.00" fill="#FDEAE1"/>
<rect x="207.73" y="398.50" width="10.50" height="9.00" fill="#FDE6DB"/>
<rect x="218.23" y="398.50" width="10.50" height="9.00" fill="#FDEAE1"/>
<rect x="228.74" y="398.50" width="10.50" height="9.00" fill="#FDEFE8"/>
<rect x="239.24" y="398.50" width="21.01" height="9.00" fill="#FDF4EE"/>
<rect x="260.25" y="398.50" width="10.50" height="9.00" fill="#FDE6DB"/>
<rect x="270.75" y="398.50" width="31.51" height="9.00" fill="#FDEFE8"/>
<rect x="302.26" y="398.50" width="10.50" height="9.00" fill="#FDEAE1"/>
<rect x="312.77" y="398.50" width="63.02" height="9.00" fill="#FDF4EE"/>
<rect x="375.79" y="398.50" width="31.51" height="9.00" fill="#FDEFE8"/>
<rect x="407.30" y="398.50" width="10.50" height="9.00" fill="#FDEAE1"/>
<rect x="417.81" y="398.50" width="10.50" height="9.00" fill="#FDEFE8"/>
<rect x="428.31" y="398.50" width="52.52" height="9.00" fill="#FDF4EE"/>
<rect x="480.83" y="398.50" width="21.01" height="9.00" fill="#FDEFE8"/>
<rect x="501.84" y="398.50" width="10.50" height="9.00" fill="#FDF4EE"/>
<rect x="512.34" y="398.50" width="10.50" height="9.00" fill="#FDEAE1"/>
<rect x="522.85" y="398.50" width="42.02" height="9.00" fill="#FDF4EE"/>
<rect x="564.86" y="398.50" width="10.50" height="9.00" fill="#FDEFE8"/>
<rect x="575.37" y="398.50" width="84.03" height="9.00" fill="#FDF4EE"/>
<rect x="134.20" y="407.50" width="10.50" height="9.00" fill="#F24830"/>
<rect x="144.70" y="407.50" width="10.50" height="9.00" fill="#FCB296"/>
<rect x="155.21" y="407.50" width="10.50" height="9.00" fill="#FDEFE8"/>
<rect x="165.71" y="407.50" width="10.50" height="9.00" fill="#FCD0BD"/>
<rect x="176.22" y="407.50" width="10.50" height="9.00" fill="#FDEAE1"/>
<rect x="186.72" y="407.50" width="10.50" height="9.00" fill="#FDD8C8"/>
<rect x="197.22" y="407.50" width="10.50" height="9.00" fill="#FDEAE1"/>
<rect x="207.73" y="407.50" width="10.50" height="9.00" fill="#FDE6DB"/>
<rect x="218.23" y="407.50" width="10.50" height="9.00" fill="#FDEAE1"/>
<rect x="228.74" y="407.50" width="10.50" height="9.00" fill="#FDEFE8"/>
<rect x="239.24" y="407.50" width="21.01" height="9.00" fill="#FDF4EE"/>
<rect x="260.25" y="407.50" width="21.01" height="9.00" fill="#FDEFE8"/>
<rect x="281.26" y="407.50" width="10.50" height="9.00" fill="#FFF6F2"/>
<rect x="291.76" y="407.50" width="10.50" height="9.00" fill="#FDEFE8"/>
<rect x="302.26" y="407.50" width="10.50" height="9.00" fill="#FDEAE1"/>
<rect x="312.77" y="407.50" width="63.02" height="9.00" fill="#FDF4EE"/>
<rect x="375.79" y="407.50" width="52.52" height="9.00" fill="#FDEFE8"/>
<rect x="428.31" y="407.50" width="52.52" height="9.00" fill="#FDF4EE"/>
<rect x="480.83" y="407.50" width="21.01" height="9.00" fill="#FDEFE8"/>
<rect x="501.84" y="407.50" width="52.52" height="9.00" fill="#FDF4EE"/>
<rect x="554.36" y="407.50" width="21.01" height="9.00" fill="#FDEFE8"/>
<rect x="575.37" y="407.50" width="84.03" height="9.00" fill="#FDF4EE"/>
<rect x="134.20" y="416.50" width="10.50" height="9.00" fill="#D32020"/>
<rect x="144.70" y="416.50" width="10.50" height="9.00" fill="#FCB296"/>
<rect x="155.21" y="416.50" width="10.50" height="9.00" fill="#FDF4EE"/>
<rect x="165.71" y="416.50" width="10.50" height="9.00" fill="#FCBBA1"/>
<rect x="176.22" y="416.50" width="10.50" height="9.00" fill="#FDEAE1"/>
<rect x="186.72" y="416.50" width="10.50" height="9.00" fill="#FDEFE8"/>
<rect x="197.22" y="416.50" width="10.50" height="9.00" fill="#FDEAE1"/>
<rect x="207.73" y="416.50" width="10.50" height="9.00" fill="#FDE6DB"/>
<rect x="218.23" y="416.50" width="10.50" height="9.00" fill="#FDD8C8"/>
<rect x="228.74" y="416.50" width="10.50" height="9.00" fill="#FDEFE8"/>
<rect x="239.24" y="416.50" width="10.50" height="9.00" fill="#FDEAE1"/>
<rect x="249.74" y="416.50" width="10.50" height="9.00" fill="#FDF4EE"/>
<rect x="260.25" y="416.50" width="10.50" height="9.00" fill="#FDE6DB"/>
<rect x="270.75" y="416.50" width="10.50" height="9.00" fill="#FDEFE8"/>
<rect x="281.26" y="416.50" width="31.51" height="9.00" fill="#FDEAE1"/>
<rect x="312.77" y="416.50" width="63.02" height="9.00" fill="#FDF4EE"/>
<rect x="375.79" y="416.50" width="52.52" height="9.00" fill="#FDEFE8"/>
<rect x="428.31" y="416.50" width="52.52" height="9.00" fill="#FDF4EE"/>
<rect x="480.83" y="416.50" width="21.01" height="9.00" fill="#FDEFE8"/>
<rect x="501.84" y="416.50" width="52.52" height="9.00" fill="#FDF4EE"/>
<rect x="554.36" y="416.50" width="21.01" height="9.00" fill="#FDEFE8"/>
<rect x="575.37" y="416.50" width="84.03" height="9.00" fill="#FDF4EE"/>
<rect x="134.20" y="425.50" width="10.50" height="9.00" fill="#F24830"/>
<rect x="144.70" y="425.50" width="10.50" height="9.00" fill="#FCB296"/>
<rect x="155.21" y="425.50" width="10.50" height="9.00" fill="#FDF4EE"/>
<rect x="165.71" y="425.50" width="10.50" height="9.00" fill="#FCD0BD"/>
<rect x="176.22" y="425.50" width="10.50" height="9.00" fill="#FDEAE1"/>
<rect x="186.72" y="425.50" width="10.50" height="9.00" fill="#FDEFE8"/>
<rect x="197.22" y="425.50" width="10.50" height="9.00" fill="#FDEAE1"/>
<rect x="207.73" y="425.50" width="21.01" height="9.00" fill="#FDE6DB"/>
<rect x="228.74" y="425.50" width="10.50" height="9.00" fill="#FDEFE8"/>
<rect x="239.24" y="425.50" width="21.01" height="9.00" fill="#FDF4EE"/>
<rect x="260.25" y="425.50" width="42.02" height="9.00" fill="#FDEFE8"/>
<rect x="302.26" y="425.50" width="73.53" height="9.00" fill="#FDF4EE"/>
<rect x="375.79" y="425.50" width="52.52" height="9.00" fill="#FDEFE8"/>
<rect x="428.31" y="425.50" width="31.51" height="9.00" fill="#FDF4EE"/>
<rect x="459.82" y="425.50" width="10.50" height="9.00" fill="#FDE6DB"/>
<rect x="470.33" y="425.50" width="10.50" height="9.00" fill="#FDF4EE"/>
<rect x="480.83" y="425.50" width="21.01" height="9.00" fill="#FDEFE8"/>
<rect x="501.84" y="425.50" width="63.02" height="9.00" fill="#FDF4EE"/>
<rect x="564.86" y="425.50" width="10.50" height="9.00" fill="#FDEFE8"/>
<rect x="575.37" y="425.50" width="84.03" height="9.00" fill="#FDF4EE"/>
<rect x="134.20" y="434.50" width="10.50" height="9.00" fill="#F24830"/>
<rect x="144.70" y="434.50" width="10.50" height="9.00" fill="#FCBBA1"/>
<rect x="155.21" y="434.50" width="10.50" height="9.00" fill="#FDF4EE"/>
<rect x="165.71" y="434.50" width="31.51" height="9.00" fill="#FDEAE1"/>
<rect x="197.22" y="434.50" width="10.50" height="9.00" fill="#FDEFE8"/>
<rect x="207.73" y="434.50" width="10.50" height="9.00" fill="#FDEAE1"/>
<rect x="218.23" y="434.50" width="10.50" height="9.00" fill="#FDEFE8"/>
<rect x="228.74" y="434.50" width="10.50" height="9.00" fill="#FDEAE1"/>
<rect x="239.24" y="434.50" width="10.50" height="9.00" fill="#FDEFE8"/>
<rect x="249.74" y="434.50" width="10.50" height="9.00" fill="#FDF4EE"/>
<rect x="260.25" y="434.50" width="10.50" height="9.00" fill="#FDEAE1"/>
<rect x="270.75" y="434.50" width="10.50" height="9.00" fill="#FDEFE8"/>
<rect x="281.26" y="434.50" width="21.01" height="9.00" fill="#FDF4EE"/>
<rect x="302.26" y="434.50" width="10.50" height="9.00" fill="#FDEFE8"/>
<rect x="312.77" y="434.50" width="63.02" height="9.00" fill="#FDF4EE"/>
<rect x="375.79" y="434.50" width="21.01" height="9.00" fill="#FDEAE1"/>
<rect x="396.80" y="434.50" width="21.01" height="9.00" fill="#FDEFE8"/>
<rect x="417.81" y="434.50" width="63.02" height="9.00" fill="#FDF4EE"/>
<rect x="480.83" y="434.50" width="21.01" height="9.00" fill="#FDEFE8"/>
<rect x="501.84" y="434.50" width="10.50" height="9.00" fill="#FDF4EE"/>
<rect x="512.34" y="434.50" width="10.50" height="9.00" fill="#FDEAE1"/>
<rect x="522.85" y="434.50" width="136.55" height="9.00" fill="#FDF4EE"/>
<rect x="134.20" y="443.50" width="10.50" height="9.00" fill="#F24830"/>
<rect x="144.70" y="443.50" width="10.50" height="9.00" fill="#FCC8B2"/>
<rect x="155.21" y="443.50" width="10.50" height="9.00" fill="#FDF4EE"/>
<rect x="165.71" y="443.50" width="31.51" height="9.00" fill="#FDEAE1"/>
<rect x="197.22" y="443.50" width="10.50" height="9.00" fill="#FDEFE8"/>
<rect x="207.73" y="443.50" width="10.50" height="9.00" fill="#FDEAE1"/>
<rect x="218.23" y="443.50" width="10.50" height="9.00" fill="#FDD8C8"/>
<rect x="228.74" y="443.50" width="10.50" height="9.00" fill="#FDEFE8"/>
<rect x="239.24" y="443.50" width="10.50" height="9.00" fill="#FDEAE1"/>
<rect x="249.74" y="443.50" width="10.50" height="9.00" fill="#FDF4EE"/>
<rect x="260.25" y="443.50" width="10.50" height="9.00" fill="#FDDDD0"/>
<rect x="270.75" y="443.50" width="10.50" height="9.00" fill="#FCD0BD"/>
<rect x="281.26" y="443.50" width="10.50" height="9.00" fill="#FDEAE1"/>
<rect x="291.76" y="443.50" width="10.50" height="9.00" fill="#FDF4EE"/>
<rect x="302.26" y="443.50" width="10.50" height="9.00" fill="#FDEFE8"/>
<rect x="312.77" y="443.50" width="10.50" height="9.00" fill="#FDEAE1"/>
<rect x="323.27" y="443.50" width="52.52" height="9.00" fill="#FDF4EE"/>
<rect x="375.79" y="443.50" width="21.01" height="9.00" fill="#FDEAE1"/>
<rect x="396.80" y="443.50" width="21.01" height="9.00" fill="#FDEFE8"/>
<rect x="417.81" y="443.50" width="21.01" height="9.00" fill="#FDF4EE"/>
<rect x="438.82" y="443.50" width="10.50" height="9.00" fill="#FDEAE1"/>
<rect x="449.32" y="443.50" width="31.51" height="9.00" fill="#FDF4EE"/>
<rect x="480.83" y="443.50" width="21.01" height="9.00" fill="#FDEAE1"/>
<rect x="501.84" y="443.50" width="52.52" height="9.00" fill="#FDF4EE"/>
<rect x="554.36" y="443.50" width="10.50" height="9.00" fill="#FDEAE1"/>
<rect x="564.86" y="443.50" width="73.53" height="9.00" fill="#FDF4EE"/>
<rect x="638.39" y="443.50" width="21.01" height="9.00" fill="#FDEAE1"/>
<rect x="134.20" y="452.50" width="10.50" height="9.00" fill="#FCA98C"/>
<rect x="144.70" y="452.50" width="10.50" height="9.00" fill="#FDEFE8"/>
<rect x="155.21" y="452.50" width="10.50" height="9.00" fill="#FDEAE1"/>
<rect x="165.71" y="452.50" width="10.50" height="9.00" fill="#FDD8C8"/>
<rect x="176.22" y="452.50" width="10.50" height="9.00" fill="#FDF4EE"/>
<rect x="186.72" y="452.50" width="10.50" height="9.00" fill="#FDEAE1"/>
<rect x="197.22" y="452.50" width="10.50" height="9.00" fill="#FDEFE8"/>
<rect x="207.73" y="452.50" width="10.50" height="9.00" fill="#FDEAE1"/>
<rect x="218.23" y="452.50" width="10.50" height="9.00" fill="#FDF4EE"/>
<rect x="228.74" y="452.50" width="10.50" height="9.00" fill="#FCC8B2"/>
<rect x="239.24" y="452.50" width="31.51" height="9.00" fill="#FDF4EE"/>
<rect x="270.75" y="452.50" width="10.50" height="9.00" fill="#FCD0BD"/>
<rect x="281.26" y="452.50" width="21.01" height="9.00" fill="#FDF4EE"/>
<rect x="302.26" y="452.50" width="10.50" height="9.00" fill="#FDEFE8"/>
<rect x="312.77" y="452.50" width="10.50" height="9.00" fill="#FDE6DB"/>
<rect x="323.27" y="452.50" width="73.53" height="9.00" fill="#FDEAE1"/>
<rect x="396.80" y="452.50" width="21.01" height="9.00" fill="#FDEFE8"/>
<rect x="417.81" y="452.50" width="241.59" height="9.00" fill="#FDF4EE"/>
<rect x="134.20" y="461.50" width="10.50" height="9.00" fill="#FCA98C"/>
<rect x="144.70" y="461.50" width="10.50" height="9.00" fill="#FDEFE8"/>
<rect x="155.21" y="461.50" width="10.50" height="9.00" fill="#FDEAE1"/>
<rect x="165.71" y="461.50" width="10.50" height="9.00" fill="#FDD8C8"/>
<rect x="176.22" y="461.50" width="10.50" height="9.00" fill="#FDF4EE"/>
<rect x="186.72" y="461.50" width="10.50" height="9.00" fill="#FDEAE1"/>
<rect x="197.22" y="461.50" width="10.50" height="9.00" fill="#FDEFE8"/>
<rect x="207.73" y="461.50" width="10.50" height="9.00" fill="#FDEAE1"/>
<rect x="218.23" y="461.50" width="10.50" height="9.00" fill="#FDF4EE"/>
<rect x="228.74" y="461.50" width="10.50" height="9.00" fill="#FCC8B2"/>
<rect x="239.24" y="461.50" width="31.51" height="9.00" fill="#FDF4EE"/>
<rect x="270.75" y="461.50" width="10.50" height="9.00" fill="#FDE6DB"/>
<rect x="281.26" y="461.50" width="21.01" height="9.00" fill="#FDF4EE"/>
<rect x="302.26" y="461.50" width="10.50" height="9.00" fill="#FDE6DB"/>
<rect x="312.77" y="461.50" width="10.50" height="9.00" fill="#FDEFE8"/>
<rect x="323.27" y="461.50" width="73.53" height="9.00" fill="#FDEAE1"/>
<rect x="396.80" y="461.50" width="21.01" height="9.00" fill="#FDEFE8"/>
<rect x="417.81" y="461.50" width="199.58" height="9.00" fill="#FDF4EE"/>
<rect x="617.38" y="461.50" width="10.50" height="9.00" fill="#FDEAE1"/>
<rect x="627.89" y="461.50" width="31.51" height="9.00" fill="#FDF4EE"/>
<rect x="134.20" y="470.50" width="10.50" height="9.00" fill="#FCA98C"/>
<rect x="144.70" y="470.50" width="10.50" height="9.00" fill="#FDEFE8"/>
<rect x="155.21" y="470.50" width="10.50" height="9.00" fill="#FDEAE1"/>
<rect x="165.71" y="470.50" width="10.50" height="9.00" fill="#FDD8C8"/>
<rect x="176.22" y="470.50" width="10.50" height="9.00" fill="#FDF4EE"/>
<rect x="186.72" y="470.50" width="10.50" height="9.00" fill="#FDEAE1"/>
<rect x="197.22" y="470.50" width="10.50" height="9.00" fill="#FDEFE8"/>
<rect x="207.73" y="470.50" width="10.50" height="9.00" fill="#FDEAE1"/>
<rect x="218.23" y="470.50" width="10.50" height="9.00" fill="#FDF4EE"/>
<rect x="228.74" y="470.50" width="10.50" height="9.00" fill="#FCC8B2"/>
<rect x="239.24" y="470.50" width="31.51" height="9.00" fill="#FDF4EE"/>
<rect x="270.75" y="470.50" width="10.50" height="9.00" fill="#FDEAE1"/>
<rect x="281.26" y="470.50" width="21.01" height="9.00" fill="#FDF4EE"/>
<rect x="302.26" y="470.50" width="21.01" height="9.00" fill="#FDEFE8"/>
<rect x="323.27" y="470.50" width="73.53" height="9.00" fill="#FDEAE1"/>
<rect x="396.80" y="470.50" width="21.01" height="9.00" fill="#FDEFE8"/>
<rect x="417.81" y="470.50" width="241.59" height="9.00" fill="#FDF4EE"/>
<rect x="134.20" y="479.50" width="10.50" height="9.00" fill="#FCA98C"/>
<rect x="144.70" y="479.50" width="21.01" height="9.00" fill="#FDEFE8"/>
<rect x="165.71" y="479.50" width="10.50" height="9.00" fill="#FDD8C8"/>
<rect x="176.22" y="479.50" width="10.50" height="9.00" fill="#FDF4EE"/>
<rect x="186.72" y="479.50" width="10.50" height="9.00" fill="#FDEAE1"/>
<rect x="197.22" y="479.50" width="10.50" height="9.00" fill="#FDEFE8"/>
<rect x="207.73" y="479.50" width="10.50" height="9.00" fill="#FDEAE1"/>
<rect x="218.23" y="479.50" width="10.50" height="9.00" fill="#FDF4EE"/>
<rect x="228.74" y="479.50" width="10.50" height="9.00" fill="#FCC8B2"/>
<rect x="239.24" y="479.50" width="31.51" height="9.00" fill="#FDF4EE"/>
<rect x="270.75" y="479.50" width="10.50" height="9.00" fill="#FDEAE1"/>
<rect x="281.26" y="479.50" width="21.01" height="9.00" fill="#FDF4EE"/>
<rect x="302.26" y="479.50" width="21.01" height="9.00" fill="#FDEFE8"/>
<rect x="323.27" y="479.50" width="52.52" height="9.00" fill="#FDEAE1"/>
<rect x="375.79" y="479.50" width="10.50" height="9.00" fill="#FDF4EE"/>
<rect x="386.30" y="479.50" width="10.50" height="9.00" fill="#FDE6DB"/>
<rect x="396.80" y="479.50" width="21.01" height="9.00" fill="#FDEFE8"/>
<rect x="417.81" y="479.50" width="241.59" height="9.00" fill="#FDF4EE"/>
<rect x="134.20" y="488.50" width="10.50" height="9.00" fill="#FCA98C"/>
<rect x="144.70" y="488.50" width="10.50" height="9.00" fill="#FDEAE1"/>
<rect x="155.21" y="488.50" width="10.50" height="9.00" fill="#FDEFE8"/>
<rect x="165.71" y="488.50" width="10.50" height="9.00" fill="#FCC8B2"/>
<rect x="176.22" y="488.50" width="10.50" height="9.00" fill="#FDF4EE"/>
<rect x="186.72" y="488.50" width="10.50" height="9.00" fill="#FDD8C8"/>
<rect x="197.22" y="488.50" width="10.50" height="9.00" fill="#FDEFE8"/>
<rect x="207.73" y="488.50" width="10.50" height="9.00" fill="#FDEAE1"/>
<rect x="218.23" y="488.50" width="10.50" height="9.00" fill="#FDF4EE"/>
<rect x="228.74" y="488.50" width="10.50" height="9.00" fill="#FCC8B2"/>
<rect x="239.24" y="488.50" width="31.51" height="9.00" fill="#FDF4EE"/>
<rect x="270.75" y="488.50" width="10.50" height="9.00" fill="#FCC8B2"/>
<rect x="281.26" y="488.50" width="21.01" height="9.00" fill="#FDF4EE"/>
<rect x="302.26" y="488.50" width="10.50" height="9.00" fill="#FDEFE8"/>
<rect x="312.77" y="488.50" width="10.50" height="9.00" fill="#FDE6DB"/>
<rect x="323.27" y="488.50" width="52.52" height="9.00" fill="#FDEAE1"/>
<rect x="375.79" y="488.50" width="10.50" height="9.00" fill="#FDE6DB"/>
<rect x="386.30" y="488.50" width="10.50" height="9.00" fill="#FDF4EE"/>
<rect x="396.80" y="488.50" width="10.50" height="9.00" fill="#FDEFE8"/>
<rect x="407.30" y="488.50" width="10.50" height="9.00" fill="#FDEAE1"/>
<rect x="417.81" y="488.50" width="241.59" height="9.00" fill="#FDF4EE"/>
<rect x="134.20" y="497.50" width="10.50" height="9.00" fill="#FB8464"/>
<rect x="144.70" y="497.50" width="10.50" height="9.00" fill="#FDEFE8"/>
<rect x="155.21" y="497.50" width="10.50" height="9.00" fill="#FDF4EE"/>
<rect x="165.71" y="497.50" width="10.50" height="9.00" fill="#FDEAE1"/>
<rect x="176.22" y="497.50" width="10.50" height="9.00" fill="#FDEFE8"/>
<rect x="186.72" y="497.50" width="10.50" height="9.00" fill="#FDD8C8"/>
<rect x="197.22" y="497.50" width="10.50" height="9.00" fill="#FDEFE8"/>
<rect x="207.73" y="497.50" width="21.01" height="9.00" fill="#FDE6DB"/>
<rect x="228.74" y="497.50" width="10.50" height="9.00" fill="#FCC8B2"/>
<rect x="239.24" y="497.50" width="10.50" height="9.00" fill="#FDF4EE"/>
<rect x="249.74" y="497.50" width="10.50" height="9.00" fill="#FDEAE1"/>
<rect x="260.25" y="497.50" width="10.50" height="9.00" fill="#FCBBA1"/>
<rect x="270.75" y="497.50" width="10.50" height="9.00" fill="#FCD0BD"/>
<rect x="281.26" y="497.50" width="21.01" height="9.00" fill="#FDF4EE"/>
<rect x="302.26" y="497.50" width="21.01" height="9.00" fill="#FDEFE8"/>
<rect x="323.27" y="497.50" width="52.52" height="9.00" fill="#FDF4EE"/>
<rect x="375.79" y="497.50" width="21.01" height="9.00" fill="#FDEAE1"/>
<rect x="396.80" y="497.50" width="21.01" height="9.00" fill="#FDEFE8"/>
<rect x="417.81" y="497.50" width="73.53" height="9.00" fill="#FDF4EE"/>
<rect x="491.34" y="497.50" width="10.50" height="9.00" fill="#FDEAE1"/>
<rect x="501.84" y="497.50" width="157.56" height="9.00" fill="#FDF4EE"/>
<rect x="134.20" y="506.50" width="10.50" height="9.00" fill="#FB8464"/>
<rect x="144.70" y="506.50" width="10.50" height="9.00" fill="#FDEFE8"/>
<rect x="155.21" y="506.50" width="10.50" height="9.00" fill="#FDF4EE"/>
<rect x="165.71" y="506.50" width="10.50" height="9.00" fill="#FDEAE1"/>
<rect x="176.22" y="506.50" width="10.50" height="9.00" fill="#FDEFE8"/>
<rect x="186.72" y="506.50" width="10.50" height="9.00" fill="#FDD8C8"/>
<rect x="197.22" y="506.50" width="10.50" height="9.00" fill="#FDEFE8"/>
<rect x="207.73" y="506.50" width="21.01" height="9.00" fill="#FDE6DB"/>
<rect x="228.74" y="506.50" width="10.50" height="9.00" fill="#FCC8B2"/>
<rect x="239.24" y="506.50" width="10.50" height="9.00" fill="#FDF4EE"/>
<rect x="249.74" y="506.50" width="10.50" height="9.00" fill="#FDEAE1"/>
<rect x="260.25" y="506.50" width="21.01" height="9.00" fill="#FCD0BD"/>
<rect x="281.26" y="506.50" width="21.01" height="9.00" fill="#FDF4EE"/>
<rect x="302.26" y="506.50" width="21.01" height="9.00" fill="#FDEFE8"/>
<rect x="323.27" y="506.50" width="52.52" height="9.00" fill="#FDF4EE"/>
<rect x="375.79" y="506.50" width="21.01" height="9.00" fill="#FDEAE1"/>
<rect x="396.80" y="506.50" width="21.01" height="9.00" fill="#FDEFE8"/>
<rect x="417.81" y="506.50" width="73.53" height="9.00" fill="#FDF4EE"/>
<rect x="491.34" y="506.50" width="10.50" height="9.00" fill="#FDEAE1"/>
<rect x="501.84" y="506.50" width="157.56" height="9.00" fill="#FDF4EE"/>
<rect x="134.20" y="515.50" width="10.50" height="9.00" fill="#FC9474"/>
<rect x="144.70" y="515.50" width="10.50" height="9.00" fill="#FCD0BD"/>
<rect x="155.21" y="515.50" width="10.50" height="9.00" fill="#FDF4EE"/>
<rect x="165.71" y="515.50" width="21.01" height="9.00" fill="#FDEFE8"/>
<rect x="186.72" y="515.50" width="10.50" height="9.00" fill="#FCD0BD"/>
<rect x="197.22" y="515.50" width="21.01" height="9.00" fill="#FDEFE8"/>
<rect x="218.23" y="515.50" width="10.50" height="9.00" fill="#FDE6DB"/>
<rect x="228.74" y="515.50" width="10.50" height="9.00" fill="#FCC8B2"/>
<rect x="239.24" y="515.50" width="10.50" height="9.00" fill="#FDF4EE"/>
<rect x="249.74" y="515.50" width="21.01" height="9.00" fill="#FDEAE1"/>
<rect x="270.75" y="515.50" width="31.51" height="9.00" fill="#FDF4EE"/>
<rect x="302.26" y="515.50" width="10.50" height="9.00" fill="#FDEFE8"/>
<rect x="312.77" y="515.50" width="10.50" height="9.00" fill="#FCC8B2"/>
<rect x="323.27" y="515.50" width="52.52" height="9.00" fill="#FDF4EE"/>
<rect x="375.79" y="515.50" width="21.01" height="9.00" fill="#FDEAE1"/>
<rect x="396.80" y="515.50" width="21.01" height="9.00" fill="#FDEFE8"/>
<rect x="417.81" y="515.50" width="73.53" height="9.00" fill="#FDF4EE"/>
<rect x="491.34" y="515.50" width="10.50" height="9.00" fill="#FDEAE1"/>
<rect x="501.84" y="515.50" width="157.56" height="9.00" fill="#FDF4EE"/>
<rect x="134.20" y="524.50" width="10.50" height="9.00" fill="#FC9474"/>
<rect x="144.70" y="524.50" width="10.50" height="9.00" fill="#FDEAE1"/>
<rect x="155.21" y="524.50" width="10.50" height="9.00" fill="#FDF4EE"/>
<rect x="165.71" y="524.50" width="10.50" height="9.00" fill="#FCD0BD"/>
<rect x="176.22" y="524.50" width="31.51" height="9.00" fill="#FDF4EE"/>
<rect x="207.73" y="524.50" width="10.50" height="9.00" fill="#FDEFE8"/>
<rect x="218.23" y="524.50" width="63.02" height="9.00" fill="#FDF4EE"/>
<rect x="281.26" y="524.50" width="10.50" height="9.00" fill="#FDD8C8"/>
<rect x="291.76" y="524.50" width="10.50" height="9.00" fill="#FDE6DB"/>
<rect x="302.26" y="524.50" width="94.54" height="9.00" fill="#FDF4EE"/>
<rect x="396.80" y="524.50" width="21.01" height="9.00" fill="#FDEFE8"/>
<rect x="417.81" y="524.50" width="105.04" height="9.00" fill="#FDF4EE"/>
<rect x="522.85" y="524.50" width="10.50" height="9.00" fill="#FDEAE1"/>
<rect x="533.35" y="524.50" width="21.01" height="9.00" fill="#FDF4EE"/>
<rect x="554.36" y="524.50" width="10.50" height="9.00" fill="#FDEAE1"/>
<rect x="564.86" y="524.50" width="94.54" height="9.00" fill="#FDF4EE"/>
<rect x="134.20" y="533.50" width="10.50" height="9.00" fill="#FB8464"/>
<rect x="144.70" y="533.50" width="10.50" height="9.00" fill="#FCD0BD"/>
<rect x="155.21" y="533.50" width="21.01" height="9.00" fill="#FDEFE8"/>
<rect x="176.22" y="533.50" width="52.52" height="9.00" fill="#FDEAE1"/>
<rect x="228.74" y="533.50" width="10.50" height="9.00" fill="#FDE6DB"/>
<rect x="239.24" y="533.50" width="31.51" height="9.00" fill="#FDEFE8"/>
<rect x="270.75" y="533.50" width="10.50" height="9.00" fill="#FDDDD0"/>
<rect x="281.26" y="533.50" width="10.50" height="9.00" fill="#FDF4EE"/>
<rect x="291.76" y="533.50" width="10.50" height="9.00" fill="#FDEFE8"/>
<rect x="302.26" y="533.50" width="31.51" height="9.00" fill="#FDF4EE"/>
<rect x="333.78" y="533.50" width="10.50" height="9.00" fill="#FDEAE1"/>
<rect x="344.28" y="533.50" width="31.51" height="9.00" fill="#FDF4EE"/>
<rect x="375.79" y="533.50" width="10.50" height="9.00" fill="#FDEAE1"/>
<rect x="386.30" y="533.50" width="10.50" height="9.00" fill="#FDF4EE"/>
<rect x="396.80" y="533.50" width="21.01" height="9.00" fill="#FDEAE1"/>
<rect x="417.81" y="533.50" width="52.52" height="9.00" fill="#FDF4EE"/>
<rect x="470.33" y="533.50" width="31.51" height="9.00" fill="#FDEAE1"/>
<rect x="501.84" y="533.50" width="84.03" height="9.00" fill="#FDF4EE"/>
<rect x="585.87" y="533.50" width="10.50" height="9.00" fill="#FDEAE1"/>
<rect x="596.38" y="533.50" width="63.02" height="9.00" fill="#FDF4EE"/>
<rect x="134.20" y="542.50" width="10.50" height="9.00" fill="#FB8464"/>
<rect x="144.70" y="542.50" width="10.50" height="9.00" fill="#FCD0BD"/>
<rect x="155.21" y="542.50" width="21.01" height="9.00" fill="#FDEFE8"/>
<rect x="176.22" y="542.50" width="52.52" height="9.00" fill="#FDEAE1"/>
<rect x="228.74" y="542.50" width="10.50" height="9.00" fill="#FDE6DB"/>
<rect x="239.24" y="542.50" width="31.51" height="9.00" fill="#FDEFE8"/>
<rect x="270.75" y="542.50" width="21.01" height="9.00" fill="#FDF4EE"/>
<rect x="291.76" y="542.50" width="10.50" height="9.00" fill="#FDEFE8"/>
<rect x="302.26" y="542.50" width="31.51" height="9.00" fill="#FDF4EE"/>
<rect x="333.78" y="542.50" width="10.50" height="9.00" fill="#FDEAE1"/>
<rect x="344.28" y="542.50" width="31.51" height="9.00" fill="#FDF4EE"/>
<rect x="375.79" y="542.50" width="10.50" height="9.00" fill="#FDEAE1"/>
<rect x="386.30" y="542.50" width="10.50" height="9.00" fill="#FDF4EE"/>
<rect x="396.80" y="542.50" width="31.51" height="9.00" fill="#FDEAE1"/>
<rect x="428.31" y="542.50" width="42.02" height="9.00" fill="#FDF4EE"/>
<rect x="470.33" y="542.50" width="31.51" height="9.00" fill="#FDEAE1"/>
<rect x="501.84" y="542.50" width="84.03" height="9.00" fill="#FDF4EE"/>
<rect x="585.87" y="542.50" width="10.50" height="9.00" fill="#FDEAE1"/>
<rect x="596.38" y="542.50" width="63.02" height="9.00" fill="#FDF4EE"/>
<rect x="134.20" y="551.50" width="10.50" height="9.00" fill="#FB6C4D"/>
<rect x="144.70" y="551.50" width="10.50" height="9.00" fill="#FCBBA1"/>
<rect x="155.21" y="551.50" width="10.50" height="9.00" fill="#FDEFE8"/>
<rect x="165.71" y="551.50" width="10.50" height="9.00" fill="#FDF4EE"/>
<rect x="176.22" y="551.50" width="31.51" height="9.00" fill="#FDEAE1"/>
<rect x="207.73" y="551.50" width="10.50" height="9.00" fill="#FDF4EE"/>
<rect x="218.23" y="551.50" width="21.01" height="9.00" fill="#FDEAE1"/>
<rect x="239.24" y="551.50" width="10.50" height="9.00" fill="#FDEFE8"/>
<rect x="249.74" y="551.50" width="10.50" height="9.00" fill="#FDEAE1"/>
<rect x="260.25" y="551.50" width="10.50" height="9.00" fill="#FDF4EE"/>
<rect x="270.75" y="551.50" width="10.50" height="9.00" fill="#FDE6DB"/>
<rect x="281.26" y="551.50" width="10.50" height="9.00" fill="#FDF4EE"/>
<rect x="291.76" y="551.50" width="10.50" height="9.00" fill="#FDEFE8"/>
<rect x="302.26" y="551.50" width="31.51" height="9.00" fill="#FDF4EE"/>
<rect x="333.78" y="551.50" width="10.50" height="9.00" fill="#FDEAE1"/>
<rect x="344.28" y="551.50" width="31.51" height="9.00" fill="#FDF4EE"/>
<rect x="375.79" y="551.50" width="31.51" height="9.00" fill="#FDEAE1"/>
<rect x="407.30" y="551.50" width="10.50" height="9.00" fill="#FDF4EE"/>
<rect x="417.81" y="551.50" width="10.50" height="9.00" fill="#FDEAE1"/>
<rect x="428.31" y="551.50" width="42.02" height="9.00" fill="#FDF4EE"/>
<rect x="470.33" y="551.50" width="31.51" height="9.00" fill="#FDEAE1"/>
<rect x="501.84" y="551.50" width="84.03" height="9.00" fill="#FDF4EE"/>
<rect x="585.87" y="551.50" width="10.50" height="9.00" fill="#FDEAE1"/>
<rect x="596.38" y="551.50" width="63.02" height="9.00" fill="#FDF4EE"/>
<rect x="134.20" y="560.50" width="10.50" height="9.00" fill="#FB8464"/>
<rect x="144.70" y="560.50" width="10.50" height="9.00" fill="#FCBBA1"/>
<rect x="155.21" y="560.50" width="10.50" height="9.00" fill="#FC9474"/>
<rect x="165.71" y="560.50" width="10.50" height="9.00" fill="#FDEFE8"/>
<rect x="176.22" y="560.50" width="31.51" height="9.00" fill="#FDEAE1"/>
<rect x="207.73" y="560.50" width="10.50" height="9.00" fill="#FDF4EE"/>
<rect x="218.23" y="560.50" width="21.01" height="9.00" fill="#FDEAE1"/>
<rect x="239.24" y="560.50" width="10.50" height="9.00" fill="#FDEFE8"/>
<rect x="249.74" y="560.50" width="10.50" height="9.00" fill="#FDEAE1"/>
<rect x="260.25" y="560.50" width="21.01" height="9.00" fill="#FDEFE8"/>
<rect x="281.26" y="560.50" width="10.50" height="9.00" fill="#FDF4EE"/>
<rect x="291.76" y="560.50" width="10.50" height="9.00" fill="#FDEFE8"/>
<rect x="302.26" y="560.50" width="31.51" height="9.00" fill="#FDF4EE"/>
<rect x="333.78" y="560.50" width="10.50" height="9.00" fill="#FDEAE1"/>
<rect x="344.28" y="560.50" width="31.51" height="9.00" fill="#FDF4EE"/>
<rect x="375.79" y="560.50" width="52.52" height="9.00" fill="#FDEAE1"/>
<rect x="428.31" y="560.50" width="42.02" height="9.00" fill="#FDF4EE"/>
<rect x="470.33" y="560.50" width="31.51" height="9.00" fill="#FDEAE1"/>
<rect x="501.84" y="560.50" width="157.56" height="9.00" fill="#FDF4EE"/>
<rect x="134.20" y="569.50" width="10.50" height="9.00" fill="#FB8464"/>
<rect x="144.70" y="569.50" width="10.50" height="9.00" fill="#FCBBA1"/>
<rect x="155.21" y="569.50" width="10.50" height="9.00" fill="#FCA98C"/>
<rect x="165.71" y="569.50" width="10.50" height="9.00" fill="#FDEFE8"/>
<rect x="176.22" y="569.50" width="63.02" height="9.00" fill="#FDEAE1"/>
<rect x="239.24" y="569.50" width="31.51" height="9.00" fill="#FDEFE8"/>
<rect x="270.75" y="569.50" width="10.50" height="9.00" fill="#FDE6DB"/>
<rect x="281.26" y="569.50" width="10.50" height="9.00" fill="#FDF4EE"/>
<rect x="291.76" y="569.50" width="10.50" height="9.00" fill="#FDEFE8"/>
<rect x="302.26" y="569.50" width="31.51" height="9.00" fill="#FDF4EE"/>
<rect x="333.78" y="569.50" width="10.50" height="9.00" fill="#FDEAE1"/>
<rect x="344.28" y="569.50" width="31.51" height="9.00" fill="#FDF4EE"/>
<rect x="375.79" y="569.50" width="52.52" height="9.00" fill="#FDEAE1"/>
<rect x="428.31" y="569.50" width="42.02" height="9.00" fill="#FDF4EE"/>
<rect x="470.33" y="569.50" width="31.51" height="9.00" fill="#FDEAE1"/>
<rect x="501.84" y="569.50" width="157.56" height="9.00" fill="#FDF4EE"/>
<rect x="134.20" y="578.50" width="10.50" height="9.00" fill="#C2161C"/>
<rect x="144.70" y="578.50" width="10.50" height="9.00" fill="#FCBBA1"/>
<rect x="155.21" y="578.50" width="10.50" height="9.00" fill="#D32020"/>
<rect x="165.71" y="578.50" width="31.51" height="9.00" fill="#FDD8C8"/>
<rect x="197.22" y="578.50" width="21.01" height="9.00" fill="#FDEAE1"/>
<rect x="218.23" y="578.50" width="10.50" height="9.00" fill="#FFF6F2"/>
<rect x="228.74" y="578.50" width="10.50" height="9.00" fill="#FDEFE8"/>
<rect x="239.24" y="578.50" width="10.50" height="9.00" fill="#FFF6F2"/>
<rect x="249.74" y="578.50" width="10.50" height="9.00" fill="#FDF4EE"/>
<rect x="260.25" y="578.50" width="21.01" height="9.00" fill="#FDEFE8"/>
<rect x="281.26" y="578.50" width="10.50" height="9.00" fill="#FDE6DB"/>
<rect x="291.76" y="578.50" width="10.50" height="9.00" fill="#FDEFE8"/>
<rect x="302.26" y="578.50" width="10.50" height="9.00" fill="#FDDDD0"/>
<rect x="312.77" y="578.50" width="126.05" height="9.00" fill="#FDF4EE"/>
<rect x="438.82" y="578.50" width="10.50" height="9.00" fill="#FDEAE1"/>
<rect x="449.32" y="578.50" width="10.50" height="9.00" fill="#FDE6DB"/>
<rect x="459.82" y="578.50" width="10.50" height="9.00" fill="#FDEAE1"/>
<rect x="470.33" y="578.50" width="10.50" height="9.00" fill="#FDF4EE"/>
<rect x="480.83" y="578.50" width="21.01" height="9.00" fill="#FDEAE1"/>
<rect x="501.84" y="578.50" width="10.50" height="9.00" fill="#FDF4EE"/>
<rect x="512.34" y="578.50" width="10.50" height="9.00" fill="#FDEAE1"/>
<rect x="522.85" y="578.50" width="10.50" height="9.00" fill="#FDF4EE"/>
<rect x="533.35" y="578.50" width="21.01" height="9.00" fill="#FDEAE1"/>
<rect x="554.36" y="578.50" width="105.04" height="9.00" fill="#FDF4EE"/>
<rect x="134.20" y="587.50" width="10.50" height="9.00" fill="#E22E27"/>
<rect x="144.70" y="587.50" width="10.50" height="9.00" fill="#FCBBA1"/>
<rect x="155.21" y="587.50" width="10.50" height="9.00" fill="#A30D15"/>
<rect x="165.71" y="587.50" width="10.50" height="9.00" fill="#FDD8C8"/>
<rect x="176.22" y="587.50" width="10.50" height="9.00" fill="#FDF4EE"/>
<rect x="186.72" y="587.50" width="10.50" height="9.00" fill="#FCD0BD"/>
<rect x="197.22" y="587.50" width="10.50" height="9.00" fill="#FDD8C8"/>
<rect x="207.73" y="587.50" width="10.50" height="9.00" fill="#FDEAE1"/>
<rect x="218.23" y="587.50" width="10.50" height="9.00" fill="#FFF6F2"/>
<rect x="228.74" y="587.50" width="21.01" height="9.00" fill="#FDEFE8"/>
<rect x="249.74" y="587.50" width="10.50" height="9.00" fill="#FDEAE1"/>
<rect x="260.25" y="587.50" width="21.01" height="9.00" fill="#FDEFE8"/>
<rect x="281.26" y="587.50" width="10.50" height="9.00" fill="#FDEAE1"/>
<rect x="291.76" y="587.50" width="21.01" height="9.00" fill="#FDEFE8"/>
<rect x="312.77" y="587.50" width="126.05" height="9.00" fill="#FDF4EE"/>
<rect x="438.82" y="587.50" width="10.50" height="9.00" fill="#FDEAE1"/>
<rect x="449.32" y="587.50" width="10.50" height="9.00" fill="#FDE6DB"/>
<rect x="459.82" y="587.50" width="21.01" height="9.00" fill="#FDF4EE"/>
<rect x="480.83" y="587.50" width="21.01" height="9.00" fill="#FDEAE1"/>
<rect x="501.84" y="587.50" width="42.02" height="9.00" fill="#FDF4EE"/>
<rect x="543.86" y="587.50" width="21.01" height="9.00" fill="#FDEAE1"/>
<rect x="564.86" y="587.50" width="94.54" height="9.00" fill="#FDF4EE"/>
<rect x="134.20" y="596.50" width="10.50" height="9.00" fill="#FB6C4D"/>
<rect x="144.70" y="596.50" width="10.50" height="9.00" fill="#FCBBA1"/>
<rect x="155.21" y="596.50" width="10.50" height="9.00" fill="#EF3E2E"/>
<rect x="165.71" y="596.50" width="10.50" height="9.00" fill="#FDF4EE"/>
<rect x="176.22" y="596.50" width="52.52" height="9.00" fill="#FDEAE1"/>
<rect x="228.74" y="596.50" width="21.01" height="9.00" fill="#FDEFE8"/>
<rect x="249.74" y="596.50" width="10.50" height="9.00" fill="#FCBBA1"/>
<rect x="260.25" y="596.50" width="10.50" height="9.00" fill="#FDEFE8"/>
<rect x="270.75" y="596.50" width="10.50" height="9.00" fill="#FDEAE1"/>
<rect x="281.26" y="596.50" width="10.50" height="9.00" fill="#FCD0BD"/>
<rect x="291.76" y="596.50" width="10.50" height="9.00" fill="#FDE6DB"/>
<rect x="302.26" y="596.50" width="31.51" height="9.00" fill="#FDF4EE"/>
<rect x="333.78" y="596.50" width="10.50" height="9.00" fill="#FDEAE1"/>
<rect x="344.28" y="596.50" width="31.51" height="9.00" fill="#FDF4EE"/>
<rect x="375.79" y="596.50" width="10.50" height="9.00" fill="#FDEAE1"/>
<rect x="386.30" y="596.50" width="10.50" height="9.00" fill="#FDF4EE"/>
<rect x="396.80" y="596.50" width="31.51" height="9.00" fill="#FDEAE1"/>
<rect x="428.31" y="596.50" width="21.01" height="9.00" fill="#FDF4EE"/>
<rect x="449.32" y="596.50" width="10.50" height="9.00" fill="#FDEAE1"/>
<rect x="459.82" y="596.50" width="21.01" height="9.00" fill="#FDF4EE"/>
<rect x="480.83" y="596.50" width="21.01" height="9.00" fill="#FDEAE1"/>
<rect x="501.84" y="596.50" width="42.02" height="9.00" fill="#FDF4EE"/>
<rect x="543.86" y="596.50" width="10.50" height="9.00" fill="#FDEAE1"/>
<rect x="554.36" y="596.50" width="105.04" height="9.00" fill="#FDF4EE"/>
<rect x="134.20" y="605.50" width="10.50" height="9.00" fill="#FB6C4D"/>
<rect x="144.70" y="605.50" width="10.50" height="9.00" fill="#FDE6DB"/>
<rect x="155.21" y="605.50" width="10.50" height="9.00" fill="#EF3E2E"/>
<rect x="165.71" y="605.50" width="10.50" height="9.00" fill="#FDF4EE"/>
<rect x="176.22" y="605.50" width="10.50" height="9.00" fill="#FDEFE8"/>
<rect x="186.72" y="605.50" width="10.50" height="9.00" fill="#FCD0BD"/>
<rect x="197.22" y="605.50" width="10.50" height="9.00" fill="#FDF4EE"/>
<rect x="207.73" y="605.50" width="21.01" height="9.00" fill="#FDEAE1"/>
<rect x="228.74" y="605.50" width="21.01" height="9.00" fill="#FDEFE8"/>
<rect x="249.74" y="605.50" width="10.50" height="9.00" fill="#FDD8C8"/>
<rect x="260.25" y="605.50" width="42.02" height="9.00" fill="#FDEFE8"/>
<rect x="302.26" y="605.50" width="10.50" height="9.00" fill="#FDF4EE"/>
<rect x="312.77" y="605.50" width="10.50" height="9.00" fill="#FDEAE1"/>
<rect x="323.27" y="605.50" width="52.52" height="9.00" fill="#FDF4EE"/>
<rect x="375.79" y="605.50" width="52.52" height="9.00" fill="#FDEAE1"/>
<rect x="428.31" y="605.50" width="21.01" height="9.00" fill="#FDF4EE"/>
<rect x="449.32" y="605.50" width="10.50" height="9.00" fill="#FDEAE1"/>
<rect x="459.82" y="605.50" width="21.01" height="9.00" fill="#FDF4EE"/>
<rect x="480.83" y="605.50" width="21.01" height="9.00" fill="#FDEAE1"/>
<rect x="501.84" y="605.50" width="42.02" height="9.00" fill="#FDF4EE"/>
<rect x="543.86" y="605.50" width="10.50" height="9.00" fill="#FDEAE1"/>
<rect x="554.36" y="605.50" width="105.04" height="9.00" fill="#FDF4EE"/>
<rect x="134.20" y="614.50" width="10.50" height="9.00" fill="#B21219"/>
<rect x="144.70" y="614.50" width="10.50" height="9.00" fill="#FCBBA1"/>
<rect x="155.21" y="614.50" width="10.50" height="9.00" fill="#FC9474"/>
<rect x="165.71" y="614.50" width="10.50" height="9.00" fill="#FCD0BD"/>
<rect x="176.22" y="614.50" width="10.50" height="9.00" fill="#FDEFE8"/>
<rect x="186.72" y="614.50" width="21.01" height="9.00" fill="#FDD8C8"/>
<rect x="207.73" y="614.50" width="21.01" height="9.00" fill="#FDEAE1"/>
<rect x="228.74" y="614.50" width="31.51" height="9.00" fill="#FDEFE8"/>
<rect x="260.25" y="614.50" width="21.01" height="9.00" fill="#FDEAE1"/>
<rect x="281.26" y="614.50" width="10.50" height="9.00" fill="#FDF4EE"/>
<rect x="291.76" y="614.50" width="21.01" height="9.00" fill="#FDEAE1"/>
<rect x="312.77" y="614.50" width="115.54" height="9.00" fill="#FDF4EE"/>
<rect x="428.31" y="614.50" width="10.50" height="9.00" fill="#FDEAE1"/>
<rect x="438.82" y="614.50" width="10.50" height="9.00" fill="#FDF4EE"/>
<rect x="449.32" y="614.50" width="10.50" height="9.00" fill="#FDEAE1"/>
<rect x="459.82" y="614.50" width="63.02" height="9.00" fill="#FDF4EE"/>
<rect x="522.85" y="614.50" width="10.50" height="9.00" fill="#FDEAE1"/>
<rect x="533.35" y="614.50" width="126.05" height="9.00" fill="#FDF4EE"/>
<rect x="134.20" y="623.50" width="10.50" height="9.00" fill="#B21219"/>
<rect x="144.70" y="623.50" width="10.50" height="9.00" fill="#FCBBA1"/>
<rect x="155.21" y="623.50" width="10.50" height="9.00" fill="#FC9474"/>
<rect x="165.71" y="623.50" width="52.52" height="9.00" fill="#FDEFE8"/>
<rect x="218.23" y="623.50" width="21.01" height="9.00" fill="#FDEAE1"/>
<rect x="239.24" y="623.50" width="42.02" height="9.00" fill="#FDEFE8"/>
<rect x="281.26" y="623.50" width="10.50" height="9.00" fill="#FDE6DB"/>
<rect x="291.76" y="623.50" width="21.01" height="9.00" fill="#FDEFE8"/>
<rect x="312.77" y="623.50" width="136.55" height="9.00" fill="#FDF4EE"/>
<rect x="449.32" y="623.50" width="10.50" height="9.00" fill="#FDEAE1"/>
<rect x="459.82" y="623.50" width="199.58" height="9.00" fill="#FDF4EE"/>
<rect x="134.20" y="632.50" width="10.50" height="9.00" fill="#A30D15"/>
<rect x="144.70" y="632.50" width="10.50" height="9.00" fill="#FCBBA1"/>
<rect x="155.21" y="632.50" width="10.50" height="9.00" fill="#FC9474"/>
<rect x="165.71" y="632.50" width="10.50" height="9.00" fill="#FDEFE8"/>
<rect x="176.22" y="632.50" width="10.50" height="9.00" fill="#FDF4EE"/>
<rect x="186.72" y="632.50" width="10.50" height="9.00" fill="#FDE6DB"/>
<rect x="197.22" y="632.50" width="10.50" height="9.00" fill="#FDEFE8"/>
<rect x="207.73" y="632.50" width="10.50" height="9.00" fill="#FDEAE1"/>
<rect x="218.23" y="632.50" width="21.01" height="9.00" fill="#FDF4EE"/>
<rect x="239.24" y="632.50" width="10.50" height="9.00" fill="#FDEFE8"/>
<rect x="249.74" y="632.50" width="10.50" height="9.00" fill="#FDEAE1"/>
<rect x="260.25" y="632.50" width="10.50" height="9.00" fill="#FDE6DB"/>
<rect x="270.75" y="632.50" width="10.50" height="9.00" fill="#FDDDD0"/>
<rect x="281.26" y="632.50" width="10.50" height="9.00" fill="#FDEAE1"/>
<rect x="291.76" y="632.50" width="10.50" height="9.00" fill="#FDE6DB"/>
<rect x="302.26" y="632.50" width="10.50" height="9.00" fill="#FDF4EE"/>
<rect x="312.77" y="632.50" width="10.50" height="9.00" fill="#FDEFE8"/>
<rect x="323.27" y="632.50" width="126.05" height="9.00" fill="#FDF4EE"/>
<rect x="449.32" y="632.50" width="10.50" height="9.00" fill="#FDEAE1"/>
<rect x="459.82" y="632.50" width="63.02" height="9.00" fill="#FDF4EE"/>
<rect x="522.85" y="632.50" width="10.50" height="9.00" fill="#FDEAE1"/>
<rect x="533.35" y="632.50" width="10.50" height="9.00" fill="#FDF4EE"/>
<rect x="543.86" y="632.50" width="10.50" height="9.00" fill="#FDEAE1"/>
<rect x="554.36" y="632.50" width="105.04" height="9.00" fill="#FDF4EE"/>
<rect x="134.20" y="641.50" width="10.50" height="9.00" fill="#D32020"/>
<rect x="144.70" y="641.50" width="10.50" height="9.00" fill="#FDE6DB"/>
<rect x="155.21" y="641.50" width="10.50" height="9.00" fill="#FC9474"/>
<rect x="165.71" y="641.50" width="10.50" height="9.00" fill="#FDDDD0"/>
<rect x="176.22" y="641.50" width="10.50" height="9.00" fill="#FDF4EE"/>
<rect x="186.72" y="641.50" width="10.50" height="9.00" fill="#FDEFE8"/>
<rect x="197.22" y="641.50" width="10.50" height="9.00" fill="#FDD8C8"/>
<rect x="207.73" y="641.50" width="10.50" height="9.00" fill="#FDEAE1"/>
<rect x="218.23" y="641.50" width="21.01" height="9.00" fill="#FDF4EE"/>
<rect x="239.24" y="641.50" width="10.50" height="9.00" fill="#FDEFE8"/>
<rect x="249.74" y="641.50" width="10.50" height="9.00" fill="#FDEAE1"/>
<rect x="260.25" y="641.50" width="10.50" height="9.00" fill="#FDEFE8"/>
<rect x="270.75" y="641.50" width="10.50" height="9.00" fill="#FDDDD0"/>
<rect x="281.26" y="641.50" width="10.50" height="9.00" fill="#FDEAE1"/>
<rect x="291.76" y="641.50" width="31.51" height="9.00" fill="#FDEFE8"/>
<rect x="323.27" y="641.50" width="178.57" height="9.00" fill="#FDF4EE"/>
<rect x="501.84" y="641.50" width="10.50" height="9.00" fill="#FDEAE1"/>
<rect x="512.34" y="641.50" width="10.50" height="9.00" fill="#FDF4EE"/>
<rect x="522.85" y="641.50" width="21.01" height="9.00" fill="#FDEAE1"/>
<rect x="543.86" y="641.50" width="115.54" height="9.00" fill="#FDF4EE"/>
<rect x="134.20" y="650.50" width="10.50" height="9.00" fill="#C2161C"/>
<rect x="144.70" y="650.50" width="10.50" height="9.00" fill="#FDEAE1"/>
<rect x="155.21" y="650.50" width="10.50" height="9.00" fill="#FC9474"/>
<rect x="165.71" y="650.50" width="10.50" height="9.00" fill="#FDDDD0"/>
<rect x="176.22" y="650.50" width="21.01" height="9.00" fill="#FDF4EE"/>
<rect x="197.22" y="650.50" width="10.50" height="9.00" fill="#FDD8C8"/>
<rect x="207.73" y="650.50" width="10.50" height="9.00" fill="#FDEAE1"/>
<rect x="218.23" y="650.50" width="21.01" height="9.00" fill="#FDF4EE"/>
<rect x="239.24" y="650.50" width="10.50" height="9.00" fill="#FDEFE8"/>
<rect x="249.74" y="650.50" width="10.50" height="9.00" fill="#FDEAE1"/>
<rect x="260.25" y="650.50" width="10.50" height="9.00" fill="#FDEFE8"/>
<rect x="270.75" y="650.50" width="10.50" height="9.00" fill="#FDE6DB"/>
<rect x="281.26" y="650.50" width="21.01" height="9.00" fill="#FDF4EE"/>
<rect x="302.26" y="650.50" width="10.50" height="9.00" fill="#FDE6DB"/>
<rect x="312.77" y="650.50" width="10.50" height="9.00" fill="#FDF4EE"/>
<rect x="323.27" y="650.50" width="10.50" height="9.00" fill="#FDEAE1"/>
<rect x="333.78" y="650.50" width="42.02" height="9.00" fill="#FDF4EE"/>
<rect x="375.79" y="650.50" width="10.50" height="9.00" fill="#FDEAE1"/>
<rect x="386.30" y="650.50" width="115.54" height="9.00" fill="#FDF4EE"/>
<rect x="501.84" y="650.50" width="10.50" height="9.00" fill="#FDEAE1"/>
<rect x="512.34" y="650.50" width="10.50" height="9.00" fill="#FDF4EE"/>
<rect x="522.85" y="650.50" width="21.01" height="9.00" fill="#FDEAE1"/>
<rect x="543.86" y="650.50" width="115.54" height="9.00" fill="#FDF4EE"/>
<rect x="134.20" y="659.50" width="10.50" height="9.00" fill="#EF3E2E"/>
<rect x="144.70" y="659.50" width="10.50" height="9.00" fill="#FDEAE1"/>
<rect x="155.21" y="659.50" width="10.50" height="9.00" fill="#F5573D"/>
<rect x="165.71" y="659.50" width="10.50" height="9.00" fill="#FDDDD0"/>
<rect x="176.22" y="659.50" width="21.01" height="9.00" fill="#FDF4EE"/>
<rect x="197.22" y="659.50" width="10.50" height="9.00" fill="#FDEFE8"/>
<rect x="207.73" y="659.50" width="10.50" height="9.00" fill="#FDEAE1"/>
<rect x="218.23" y="659.50" width="21.01" height="9.00" fill="#FDF4EE"/>
<rect x="239.24" y="659.50" width="10.50" height="9.00" fill="#FDEFE8"/>
<rect x="249.74" y="659.50" width="10.50" height="9.00" fill="#FDEAE1"/>
<rect x="260.25" y="659.50" width="10.50" height="9.00" fill="#FDEFE8"/>
<rect x="270.75" y="659.50" width="21.01" height="9.00" fill="#FDF4EE"/>
<rect x="291.76" y="659.50" width="21.01" height="9.00" fill="#FDEFE8"/>
<rect x="312.77" y="659.50" width="10.50" height="9.00" fill="#FDF4EE"/>
<rect x="323.27" y="659.50" width="10.50" height="9.00" fill="#FDEAE1"/>
<rect x="333.78" y="659.50" width="42.02" height="9.00" fill="#FDF4EE"/>
<rect x="375.79" y="659.50" width="10.50" height="9.00" fill="#FDEAE1"/>
<rect x="386.30" y="659.50" width="84.03" height="9.00" fill="#FDF4EE"/>
<rect x="470.33" y="659.50" width="10.50" height="9.00" fill="#FDEAE1"/>
<rect x="480.83" y="659.50" width="21.01" height="9.00" fill="#FDF4EE"/>
<rect x="501.84" y="659.50" width="10.50" height="9.00" fill="#FDEAE1"/>
<rect x="512.34" y="659.50" width="10.50" height="9.00" fill="#FDF4EE"/>
<rect x="522.85" y="659.50" width="21.01" height="9.00" fill="#FDEAE1"/>
<rect x="543.86" y="659.50" width="115.54" height="9.00" fill="#FDF4EE"/>
<rect x="134.20" y="668.50" width="10.50" height="9.00" fill="#EF3E2E"/>
<rect x="144.70" y="668.50" width="10.50" height="9.00" fill="#FFF6F2"/>
<rect x="155.21" y="668.50" width="10.50" height="9.00" fill="#F5573D"/>
<rect x="165.71" y="668.50" width="10.50" height="9.00" fill="#FDD8C8"/>
<rect x="176.22" y="668.50" width="10.50" height="9.00" fill="#FDE6DB"/>
<rect x="186.72" y="668.50" width="10.50" height="9.00" fill="#FDD8C8"/>
<rect x="197.22" y="668.50" width="10.50" height="9.00" fill="#FCC8B2"/>
<rect x="207.73" y="668.50" width="31.51" height="9.00" fill="#FDEAE1"/>
<rect x="239.24" y="668.50" width="10.50" height="9.00" fill="#FCA98C"/>
<rect x="249.74" y="668.50" width="10.50" height="9.00" fill="#FDD8C8"/>
<rect x="260.25" y="668.50" width="21.01" height="9.00" fill="#FDEAE1"/>
<rect x="281.26" y="668.50" width="10.50" height="9.00" fill="#FDEFE8"/>
<rect x="291.76" y="668.50" width="10.50" height="9.00" fill="#FDEAE1"/>
<rect x="302.26" y="668.50" width="10.50" height="9.00" fill="#FDEFE8"/>
<rect x="312.77" y="668.50" width="157.56" height="9.00" fill="#FDF4EE"/>
<rect x="470.33" y="668.50" width="10.50" height="9.00" fill="#FDEAE1"/>
<rect x="480.83" y="668.50" width="10.50" height="9.00" fill="#FDF4EE"/>
<rect x="491.34" y="668.50" width="10.50" height="9.00" fill="#FDEAE1"/>
<rect x="501.84" y="668.50" width="31.51" height="9.00" fill="#FDF4EE"/>
<rect x="533.35" y="668.50" width="21.01" height="9.00" fill="#FDEAE1"/>
<rect x="554.36" y="668.50" width="105.04" height="9.00" fill="#FDF4EE"/>
<rect x="134.20" y="677.50" width="10.50" height="9.00" fill="#C2161C"/>
<rect x="144.70" y="677.50" width="10.50" height="9.00" fill="#D32020"/>
<rect x="155.21" y="677.50" width="10.50" height="9.00" fill="#F5573D"/>
<rect x="165.71" y="677.50" width="10.50" height="9.00" fill="#FCBBA1"/>
<rect x="176.22" y="677.50" width="10.50" height="9.00" fill="#FCD0BD"/>
<rect x="186.72" y="677.50" width="21.01" height="9.00" fill="#FCC8B2"/>
<rect x="207.73" y="677.50" width="10.50" height="9.00" fill="#FDEAE1"/>
<rect x="218.23" y="677.50" width="21.01" height="9.00" fill="#FDF4EE"/>
<rect x="239.24" y="677.50" width="10.50" height="9.00" fill="#FDEFE8"/>
<rect x="249.74" y="677.50" width="10.50" height="9.00" fill="#FDEAE1"/>
<rect x="260.25" y="677.50" width="10.50" height="9.00" fill="#FDEFE8"/>
<rect x="270.75" y="677.50" width="10.50" height="9.00" fill="#FDEAE1"/>
<rect x="281.26" y="677.50" width="10.50" height="9.00" fill="#FCC8B2"/>
<rect x="291.76" y="677.50" width="10.50" height="9.00" fill="#FDEAE1"/>
<rect x="302.26" y="677.50" width="21.01" height="9.00" fill="#FDEFE8"/>
<rect x="323.27" y="677.50" width="94.54" height="9.00" fill="#FDF4EE"/>
<rect x="417.81" y="677.50" width="31.51" height="9.00" fill="#FDEAE1"/>
<rect x="449.32" y="677.50" width="21.01" height="9.00" fill="#FDF4EE"/>
<rect x="470.33" y="677.50" width="10.50" height="9.00" fill="#FDEAE1"/>
<rect x="480.83" y="677.50" width="10.50" height="9.00" fill="#FDF4EE"/>
<rect x="491.34" y="677.50" width="10.50" height="9.00" fill="#FDEAE1"/>
<rect x="501.84" y="677.50" width="21.01" height="9.00" fill="#FDF4EE"/>
<rect x="522.85" y="677.50" width="10.50" height="9.00" fill="#FDEAE1"/>
<rect x="533.35" y="677.50" width="10.50" height="9.00" fill="#FDF4EE"/>
<rect x="543.86" y="677.50" width="10.50" height="9.00" fill="#FDEAE1"/>
<rect x="554.36" y="677.50" width="42.02" height="9.00" fill="#FDF4EE"/>
<rect x="596.38" y="677.50" width="21.01" height="9.00" fill="#FDEAE1"/>
<rect x="617.38" y="677.50" width="42.02" height="9.00" fill="#FDF4EE"/>
<rect x="134.20" y="686.50" width="10.50" height="9.00" fill="#C2161C"/>
<rect x="144.70" y="686.50" width="10.50" height="9.00" fill="#D32020"/>
<rect x="155.21" y="686.50" width="10.50" height="9.00" fill="#F5573D"/>
<rect x="165.71" y="686.50" width="10.50" height="9.00" fill="#FCBBA1"/>
<rect x="176.22" y="686.50" width="10.50" height="9.00" fill="#FCD0BD"/>
<rect x="186.72" y="686.50" width="21.01" height="9.00" fill="#FCC8B2"/>
<rect x="207.73" y="686.50" width="10.50" height="9.00" fill="#FDEAE1"/>
<rect x="218.23" y="686.50" width="21.01" height="9.00" fill="#FDF4EE"/>
<rect x="239.24" y="686.50" width="10.50" height="9.00" fill="#FDEFE8"/>
<rect x="249.74" y="686.50" width="10.50" height="9.00" fill="#FDEAE1"/>
<rect x="260.25" y="686.50" width="10.50" height="9.00" fill="#FDEFE8"/>
<rect x="270.75" y="686.50" width="10.50" height="9.00" fill="#FDEAE1"/>
<rect x="281.26" y="686.50" width="10.50" height="9.00" fill="#FCC8B2"/>
<rect x="291.76" y="686.50" width="10.50" height="9.00" fill="#FDEAE1"/>
<rect x="302.26" y="686.50" width="21.01" height="9.00" fill="#FDEFE8"/>
<rect x="323.27" y="686.50" width="94.54" height="9.00" fill="#FDF4EE"/>
<rect x="417.81" y="686.50" width="31.51" height="9.00" fill="#FDEAE1"/>
<rect x="449.32" y="686.50" width="21.01" height="9.00" fill="#FDF4EE"/>
<rect x="470.33" y="686.50" width="10.50" height="9.00" fill="#FDEAE1"/>
<rect x="480.83" y="686.50" width="10.50" height="9.00" fill="#FDF4EE"/>
<rect x="491.34" y="686.50" width="10.50" height="9.00" fill="#FDEAE1"/>
<rect x="501.84" y="686.50" width="21.01" height="9.00" fill="#FDF4EE"/>
<rect x="522.85" y="686.50" width="10.50" height="9.00" fill="#FDEAE1"/>
<rect x="533.35" y="686.50" width="10.50" height="9.00" fill="#FDF4EE"/>
<rect x="543.86" y="686.50" width="10.50" height="9.00" fill="#FDEAE1"/>
<rect x="554.36" y="686.50" width="42.02" height="9.00" fill="#FDF4EE"/>
<rect x="596.38" y="686.50" width="21.01" height="9.00" fill="#FDEAE1"/>
<rect x="617.38" y="686.50" width="42.02" height="9.00" fill="#FDF4EE"/>
<rect x="134.20" y="695.50" width="10.50" height="9.00" fill="#C2161C"/>
<rect x="144.70" y="695.50" width="10.50" height="9.00" fill="#B21219"/>
<rect x="155.21" y="695.50" width="10.50" height="9.00" fill="#EF3E2E"/>
<rect x="165.71" y="695.50" width="10.50" height="9.00" fill="#FCBBA1"/>
<rect x="176.22" y="695.50" width="10.50" height="9.00" fill="#FCD0BD"/>
<rect x="186.72" y="695.50" width="21.01" height="9.00" fill="#FCC8B2"/>
<rect x="207.73" y="695.50" width="10.50" height="9.00" fill="#FDEAE1"/>
<rect x="218.23" y="695.50" width="21.01" height="9.00" fill="#FDF4EE"/>
<rect x="239.24" y="695.50" width="10.50" height="9.00" fill="#FDEFE8"/>
<rect x="249.74" y="695.50" width="10.50" height="9.00" fill="#FDEAE1"/>
<rect x="260.25" y="695.50" width="10.50" height="9.00" fill="#FDEFE8"/>
<rect x="270.75" y="695.50" width="10.50" height="9.00" fill="#FDEAE1"/>
<rect x="281.26" y="695.50" width="10.50" height="9.00" fill="#FCD0BD"/>
<rect x="291.76" y="695.50" width="31.51" height="9.00" fill="#FDEFE8"/>
<rect x="323.27" y="695.50" width="94.54" height="9.00" fill="#FDF4EE"/>
<rect x="417.81" y="695.50" width="31.51" height="9.00" fill="#FDEAE1"/>
<rect x="449.32" y="695.50" width="21.01" height="9.00" fill="#FDF4EE"/>
<rect x="470.33" y="695.50" width="10.50" height="9.00" fill="#FDEAE1"/>
<rect x="480.83" y="695.50" width="10.50" height="9.00" fill="#FDF4EE"/>
<rect x="491.34" y="695.50" width="10.50" height="9.00" fill="#FDEAE1"/>
<rect x="501.84" y="695.50" width="10.50" height="9.00" fill="#FDF4EE"/>
<rect x="512.34" y="695.50" width="21.01" height="9.00" fill="#FDEAE1"/>
<rect x="533.35" y="695.50" width="126.05" height="9.00" fill="#FDF4EE"/>
<rect x="134.20" y="704.50" width="10.50" height="9.00" fill="#C2161C"/>
<rect x="144.70" y="704.50" width="10.50" height="9.00" fill="#E22E27"/>
<rect x="155.21" y="704.50" width="10.50" height="9.00" fill="#FC9474"/>
<rect x="165.71" y="704.50" width="10.50" height="9.00" fill="#FCBBA1"/>
<rect x="176.22" y="704.50" width="10.50" height="9.00" fill="#FCD0BD"/>
<rect x="186.72" y="704.50" width="21.01" height="9.00" fill="#FCC8B2"/>
<rect x="207.73" y="704.50" width="10.50" height="9.00" fill="#FDEAE1"/>
<rect x="218.23" y="704.50" width="21.01" height="9.00" fill="#FDF4EE"/>
<rect x="239.24" y="704.50" width="10.50" height="9.00" fill="#FDEFE8"/>
<rect x="249.74" y="704.50" width="10.50" height="9.00" fill="#FDEAE1"/>
<rect x="260.25" y="704.50" width="21.01" height="9.00" fill="#FDEFE8"/>
<rect x="281.26" y="704.50" width="10.50" height="9.00" fill="#FCD0BD"/>
<rect x="291.76" y="704.50" width="31.51" height="9.00" fill="#FDEFE8"/>
<rect x="323.27" y="704.50" width="94.54" height="9.00" fill="#FDF4EE"/>
<rect x="417.81" y="704.50" width="31.51" height="9.00" fill="#FDEAE1"/>
<rect x="449.32" y="704.50" width="21.01" height="9.00" fill="#FDF4EE"/>
<rect x="470.33" y="704.50" width="10.50" height="9.00" fill="#FDEAE1"/>
<rect x="480.83" y="704.50" width="10.50" height="9.00" fill="#FDF4EE"/>
<rect x="491.34" y="704.50" width="10.50" height="9.00" fill="#FDEAE1"/>
<rect x="501.84" y="704.50" width="10.50" height="9.00" fill="#FDF4EE"/>
<rect x="512.34" y="704.50" width="21.01" height="9.00" fill="#FDEAE1"/>
<rect x="533.35" y="704.50" width="126.05" height="9.00" fill="#FDF4EE"/>
<rect x="134.20" y="713.50" width="10.50" height="9.00" fill="#C2161C"/>
<rect x="144.70" y="713.50" width="10.50" height="9.00" fill="#E22E27"/>
<rect x="155.21" y="713.50" width="10.50" height="9.00" fill="#FC9474"/>
<rect x="165.71" y="713.50" width="10.50" height="9.00" fill="#FCBBA1"/>
<rect x="176.22" y="713.50" width="10.50" height="9.00" fill="#FCD0BD"/>
<rect x="186.72" y="713.50" width="21.01" height="9.00" fill="#FCC8B2"/>
<rect x="207.73" y="713.50" width="10.50" height="9.00" fill="#FDEAE1"/>
<rect x="218.23" y="713.50" width="21.01" height="9.00" fill="#FDF4EE"/>
<rect x="239.24" y="713.50" width="10.50" height="9.00" fill="#FDEFE8"/>
<rect x="249.74" y="713.50" width="10.50" height="9.00" fill="#FDEAE1"/>
<rect x="260.25" y="713.50" width="21.01" height="9.00" fill="#FDEFE8"/>
<rect x="281.26" y="713.50" width="10.50" height="9.00" fill="#FCD0BD"/>
<rect x="291.76" y="713.50" width="31.51" height="9.00" fill="#FDEFE8"/>
<rect x="323.27" y="713.50" width="94.54" height="9.00" fill="#FDF4EE"/>
<rect x="417.81" y="713.50" width="31.51" height="9.00" fill="#FDEAE1"/>
<rect x="449.32" y="713.50" width="21.01" height="9.00" fill="#FDF4EE"/>
<rect x="470.33" y="713.50" width="10.50" height="9.00" fill="#FDEAE1"/>
<rect x="480.83" y="713.50" width="10.50" height="9.00" fill="#FDF4EE"/>
<rect x="491.34" y="713.50" width="10.50" height="9.00" fill="#FDEAE1"/>
<rect x="501.84" y="713.50" width="10.50" height="9.00" fill="#FDF4EE"/>
<rect x="512.34" y="713.50" width="21.01" height="9.00" fill="#FDEAE1"/>
<rect x="533.35" y="713.50" width="126.05" height="9.00" fill="#FDF4EE"/>
<rect x="134.20" y="722.50" width="10.50" height="9.00" fill="#C2161C"/>
<rect x="144.70" y="722.50" width="10.50" height="9.00" fill="#B21219"/>
<rect x="155.21" y="722.50" width="10.50" height="9.00" fill="#F5573D"/>
<rect x="165.71" y="722.50" width="10.50" height="9.00" fill="#FCBBA1"/>
<rect x="176.22" y="722.50" width="10.50" height="9.00" fill="#FDE6DB"/>
<rect x="186.72" y="722.50" width="21.01" height="9.00" fill="#FCC8B2"/>
<rect x="207.73" y="722.50" width="10.50" height="9.00" fill="#FDEAE1"/>
<rect x="218.23" y="722.50" width="21.01" height="9.00" fill="#FDF4EE"/>
<rect x="239.24" y="722.50" width="10.50" height="9.00" fill="#FCC8B2"/>
<rect x="249.74" y="722.50" width="10.50" height="9.00" fill="#FDEAE1"/>
<rect x="260.25" y="722.50" width="10.50" height="9.00" fill="#FDEFE8"/>
<rect x="270.75" y="722.50" width="10.50" height="9.00" fill="#FDE6DB"/>
<rect x="281.26" y="722.50" width="10.50" height="9.00" fill="#FDF4EE"/>
<rect x="291.76" y="722.50" width="31.51" height="9.00" fill="#FDEFE8"/>
<rect x="323.27" y="722.50" width="94.54" height="9.00" fill="#FDF4EE"/>
<rect x="417.81" y="722.50" width="31.51" height="9.00" fill="#FDEAE1"/>
<rect x="449.32" y="722.50" width="21.01" height="9.00" fill="#FDF4EE"/>
<rect x="470.33" y="722.50" width="10.50" height="9.00" fill="#FDEAE1"/>
<rect x="480.83" y="722.50" width="10.50" height="9.00" fill="#FDF4EE"/>
<rect x="491.34" y="722.50" width="10.50" height="9.00" fill="#FDEAE1"/>
<rect x="501.84" y="722.50" width="10.50" height="9.00" fill="#FDF4EE"/>
<rect x="512.34" y="722.50" width="21.01" height="9.00" fill="#FDEAE1"/>
<rect x="533.35" y="722.50" width="126.05" height="9.00" fill="#FDF4EE"/>
</g>
<path d="M129.5 142.0V152.0M129.0 142.5H130.0M129.0 151.5H130.0M129.5 147.0V161.0M129.0 147.5H130.0M129.0 160.5H130.0M129.5 153.0V170.0M129.0 153.5H130.0M129.0 169.5H130.0M123.5 161.0V179.0M123.0 161.5H130.0M123.0 178.5H130.0M114.5 170.0V188.0M114.0 170.5H124.0M114.0 187.5H130.0M129.5 196.0V206.0M129.0 196.5H130.0M129.0 205.5H130.0M115.5 201.0V215.0M115.0 201.5H130.0M115.0 214.5H130.0M118.5 223.0V233.0M118.0 223.5H130.0M118.0 232.5H130.0M110.5 207.0V229.0M110.0 207.5H116.0M110.0 228.5H119.0M109.5 178.0V218.0M109.0 178.5H115.0M109.0 217.5H111.0M129.5 241.0V251.0M129.0 241.5H130.0M129.0 250.5H130.0M123.5 259.0V269.0M123.0 259.5H130.0M123.0 268.5H130.0M118.5 246.0V265.0M118.0 246.5H130.0M118.0 264.5H124.0M115.5 277.0V287.0M115.0 277.5H130.0M115.0 286.5H130.0M112.5 255.0V283.0M112.0 255.5H119.0M112.0 282.5H116.0M108.5 268.0V296.0M108.0 268.5H113.0M108.0 295.5H130.0M104.5 282.0V305.0M104.0 282.5H109.0M104.0 304.5H130.0M102.5 293.0V314.0M102.0 293.5H105.0M102.0 313.5H130.0M99.5 303.0V323.0M99.0 303.5H103.0M99.0 322.5H130.0M88.5 198.0V313.0M88.0 198.5H110.0M88.0 312.5H100.0M123.5 331.0V341.0M123.0 331.5H130.0M123.0 340.5H130.0M119.5 336.0V350.0M119.0 336.5H124.0M119.0 349.5H130.0M115.5 358.0V368.0M115.0 358.5H130.0M115.0 367.5H130.0M111.5 342.0V364.0M111.0 342.5H120.0M111.0 363.5H116.0M106.5 352.0V377.0M106.0 352.5H112.0M106.0 376.5H130.0M78.5 255.0V365.0M78.0 255.5H89.0M78.0 364.5H107.0M123.5 385.0V395.0M123.0 385.5H130.0M123.0 394.5H130.0M115.5 390.0V404.0M115.0 390.5H124.0M115.0 403.5H130.0M109.5 396.0V413.0M109.0 396.5H116.0M109.0 412.5H130.0M105.5 404.0V422.0M105.0 404.5H110.0M105.0 421.5H130.0M108.5 430.0V440.0M108.0 430.5H130.0M108.0 439.5H130.0M102.5 435.0V449.0M102.0 435.5H109.0M102.0 448.5H130.0M94.5 413.0V442.0M94.0 413.5H106.0M94.0 441.5H103.0M71.5 310.0V428.0M71.0 310.5H79.0M71.0 427.5H95.0M116.5 457.0V467.0M116.0 457.5H130.0M116.0 466.5H130.0M118.5 475.0V485.0M118.0 475.5H130.0M118.0 484.5H130.0M113.5 462.0V481.0M113.0 462.5H117.0M113.0 480.5H119.0M104.5 471.0V494.0M104.0 471.5H114.0M104.0 493.5H130.0M118.5 502.0V512.0M118.0 502.5H130.0M118.0 511.5H130.0M94.5 507.0V521.0M94.0 507.5H119.0M94.0 520.5H130.0M85.5 482.0V514.0M85.0 482.5H105.0M85.0 513.5H95.0M80.5 498.0V530.0M80.0 498.5H86.0M80.0 529.5H130.0M116.5 538.0V548.0M116.0 538.5H130.0M116.0 547.5H130.0M111.5 543.0V557.0M111.0 543.5H117.0M111.0 556.5H130.0M121.5 565.0V575.0M121.0 565.5H130.0M121.0 574.5H130.0M91.5 549.0V571.0M91.0 549.5H112.0M91.0 570.5H122.0M73.5 513.0V560.0M73.0 513.5H81.0M73.0 559.5H92.0M48.5 368.0V537.0M48.0 368.5H72.0M48.0 536.5H74.0M107.5 583.0V593.0M107.0 583.5H130.0M107.0 592.5H130.0M102.5 601.0V611.0M102.0 601.5H130.0M102.0 610.5H130.0M75.5 588.0V607.0M75.0 588.5H108.0M75.0 606.5H103.0M107.5 619.0V629.0M107.0 619.5H130.0M107.0 628.5H130.0M103.5 624.0V638.0M103.0 624.5H108.0M103.0 637.5H130.0M67.5 597.0V631.0M67.0 597.5H76.0M67.0 630.5H104.0M107.5 646.0V656.0M107.0 646.5H130.0M107.0 655.5H130.0M93.5 651.0V665.0M93.0 651.5H108.0M93.0 664.5H130.0M77.5 657.0V674.0M77.0 657.5H94.0M77.0 673.5H130.0M64.5 613.0V666.0M64.0 613.5H68.0M64.0 665.5H78.0M128.5 682.0V692.0M128.0 682.5H130.0M128.0 691.5H130.0M113.5 687.0V701.0M113.0 687.5H129.0M113.0 700.5H130.0M128.5 709.0V719.0M128.0 709.5H130.0M128.0 718.5H130.0M107.5 693.0V715.0M107.0 693.5H114.0M107.0 714.5H129.0M97.5 703.0V728.0M97.0 703.5H108.0M97.0 727.5H130.0M32.5 639.0V716.0M32.0 639.5H65.0M32.0 715.5H98.0M7.5 452.0V678.0M7.0 452.5H49.0M7.0 677.5H33.0" stroke="#747474" stroke-width="1" fill="none"/>
<path d="M139.0 31.5H189.0M139.5 31.0V134.0M188.5 31.0V89.0M154.0 88.5H222.0M154.5 88.0V103.0M149.0 102.5H161.0M149.5 102.0V134.0M160.5 102.0V134.0M221.5 88.0V111.0M183.0 110.5H261.0M183.5 110.0V119.0M170.0 118.5H198.0M170.5 118.0V134.0M197.5 118.0V123.0M186.0 122.5H208.0M186.5 122.0V126.0M181.0 125.5H192.0M181.5 125.0V134.0M191.5 125.0V134.0M207.5 122.0V126.0M202.0 125.5H213.0M202.5 125.0V134.0M212.5 125.0V134.0M260.5 110.0V123.0M249.0 122.5H272.0M249.5 122.0V127.0M244.0 126.5H255.0M244.5 126.0V134.0M254.5 126.0V134.0M271.5 122.0V125.0M265.0 124.5H276.0M265.5 124.0V134.0M275.5 124.0V134.0M228.0 119.5H323.0M228.5 119.0V124.0M223.0 123.5H234.0M223.5 123.0V134.0M233.5 123.0V134.0M322.5 119.0V123.0M286.0 122.5H358.0M286.5 122.0V134.0M357.5 122.0V125.0M302.0 124.5H360.0M302.5 124.0V127.0M296.0 126.5H308.0M296.5 126.0V134.0M307.5 126.0V134.0M359.0 124.5H413.0M412.0 125.5H471.0M328.5 124.0V129.0M317.0 128.5H334.0M317.5 128.0V134.0M333.5 128.0V131.0M328.0 130.5H339.0M328.5 130.0V134.0M338.5 130.0V134.0M338.0 130.5H350.0M349.5 130.0V131.0M349.0 130.5H367.0M349.5 130.0V134.0M359.0 132.5H371.0M359.5 132.0V134.0M370.5 132.0V134.0M359.5 124.0V128.0M359.0 127.5H391.0M380.0 130.5H392.0M380.5 130.0V134.0M391.5 130.0V134.0M391.0 130.5H402.0M391.5 130.0V134.0M401.5 130.0V134.0M401.0 130.5H413.0M401.5 130.0V134.0M412.5 130.0V134.0M431.5 125.0V130.0M423.0 129.5H440.0M422.0 130.5H434.0M422.5 130.0V134.0M433.5 130.0V134.0M433.0 131.5H444.0M433.5 131.0V134.0M443.5 131.0V134.0M454.0 131.5H465.0M454.5 131.0V134.0M464.5 131.0V134.0M459.0 129.5H475.0M464.0 125.5H473.0M472.0 126.5H526.0M525.5 126.0V130.0M518.0 129.5H561.0M475.0 130.5H486.0M475.5 130.0V134.0M485.5 130.0V134.0M485.0 130.5H497.0M485.5 130.0V134.0M496.5 130.0V134.0M480.5 126.0V131.0M506.0 129.5H518.0M506.5 129.0V134.0M517.5 129.0V134.0M517.0 129.5H528.0M517.5 129.0V134.0M527.5 129.0V134.0M538.0 131.5H549.0M538.5 131.0V134.0M548.5 131.0V134.0M555.0 130.5H581.0M580.0 130.5H606.0M605.0 131.5H635.0M634.0 132.5H655.0M559.0 130.5H570.0M559.5 130.0V134.0M569.5 130.0V134.0M580.0 130.5H591.0M580.5 130.0V134.0M590.5 130.0V134.0M601.0 131.5H612.0M601.5 131.0V134.0M611.5 131.0V134.0M622.0 132.5H633.0M622.5 132.0V134.0M632.5 132.0V134.0M643.0 132.5H654.0M643.5 132.0V134.0M653.5 132.0V134.0M574.5 130.0V131.0" stroke="#747474" stroke-width="1" fill="none"/>
<g font-size="11.4" fill="#222" stroke="#222" stroke-width="0.25">
<text transform="translate(143.65,741.8) rotate(-90)" text-anchor="end">GH13</text>
<text transform="translate(154.22,741.8) rotate(-90)" text-anchor="end">GH3</text>
<text transform="translate(164.78,741.8) rotate(-90)" text-anchor="end">GH43</text>
<text transform="translate(175.35,741.8) rotate(-90)" text-anchor="end">GH2</text>
<text transform="translate(185.92,741.8) rotate(-90)" text-anchor="end">GH5</text>
<text transform="translate(196.49,741.8) rotate(-90)" text-anchor="end">GH42</text>
<text transform="translate(207.05,741.8) rotate(-90)" text-anchor="end">GH36</text>
<text transform="translate(217.62,741.8) rotate(-90)" text-anchor="end">GH77</text>
<text transform="translate(228.19,741.8) rotate(-90)" text-anchor="end">GH38</text>
<text transform="translate(238.75,741.8) rotate(-90)" text-anchor="end">GH20</text>
<text transform="translate(249.32,741.8) rotate(-90)" text-anchor="end">GH30</text>
<text transform="translate(259.89,741.8) rotate(-90)" text-anchor="end">GH51</text>
<text transform="translate(270.45,741.8) rotate(-90)" text-anchor="end">GH32</text>
<text transform="translate(281.02,741.8) rotate(-90)" text-anchor="end">GH25</text>
<text transform="translate(291.59,741.8) rotate(-90)" text-anchor="end">GH31</text>
<text transform="translate(302.15,741.8) rotate(-90)" text-anchor="end">GH127</text>
<text transform="translate(312.72,741.8) rotate(-90)" text-anchor="end">GH1</text>
<text transform="translate(323.29,741.8) rotate(-90)" text-anchor="end">GH29</text>
<text transform="translate(333.86,741.8) rotate(-90)" text-anchor="end">GH136</text>
<text transform="translate(344.42,741.8) rotate(-90)" text-anchor="end">GH101</text>
<text transform="translate(354.99,741.8) rotate(-90)" text-anchor="end">GH84</text>
<text transform="translate(365.56,741.8) rotate(-90)" text-anchor="end">GH89</text>
<text transform="translate(376.12,741.8) rotate(-90)" text-anchor="end">GH110</text>
<text transform="translate(386.69,741.8) rotate(-90)" text-anchor="end">GH112</text>
<text transform="translate(397.26,741.8) rotate(-90)" text-anchor="end">GH33</text>
<text transform="translate(407.82,741.8) rotate(-90)" text-anchor="end">GH129</text>
<text transform="translate(418.39,741.8) rotate(-90)" text-anchor="end">GH95</text>
<text transform="translate(428.96,741.8) rotate(-90)" text-anchor="end">GH53</text>
<text transform="translate(439.53,741.8) rotate(-90)" text-anchor="end">GH26</text>
<text transform="translate(450.09,741.8) rotate(-90)" text-anchor="end">GH78</text>
<text transform="translate(460.66,741.8) rotate(-90)" text-anchor="end">GH120</text>
<text transform="translate(471.23,741.8) rotate(-90)" text-anchor="end">GH8</text>
<text transform="translate(481.79,741.8) rotate(-90)" text-anchor="end">GH27</text>
<text transform="translate(492.36,741.8) rotate(-90)" text-anchor="end">GH85</text>
<text transform="translate(502.93,741.8) rotate(-90)" text-anchor="end">GH125</text>
<text transform="translate(513.50,741.8) rotate(-90)" text-anchor="end">GH109</text>
<text transform="translate(524.06,741.8) rotate(-90)" text-anchor="end">GH23</text>
<text transform="translate(534.63,741.8) rotate(-90)" text-anchor="end">GH94</text>
<text transform="translate(545.20,741.8) rotate(-90)" text-anchor="end">GH146</text>
<text transform="translate(555.76,741.8) rotate(-90)" text-anchor="end">GH121</text>
<text transform="translate(566.33,741.8) rotate(-90)" text-anchor="end">GH35</text>
<text transform="translate(576.90,741.8) rotate(-90)" text-anchor="end">GH65</text>
<text transform="translate(587.46,741.8) rotate(-90)" text-anchor="end">GH18</text>
<text transform="translate(598.03,741.8) rotate(-90)" text-anchor="end">GH16</text>
<text transform="translate(608.60,741.8) rotate(-90)" text-anchor="end">GH105</text>
<text transform="translate(619.16,741.8) rotate(-90)" text-anchor="end">GH140</text>
<text transform="translate(629.73,741.8) rotate(-90)" text-anchor="end">GH123</text>
<text transform="translate(640.30,741.8) rotate(-90)" text-anchor="end">GH10</text>
<text transform="translate(650.87,741.8) rotate(-90)" text-anchor="end">GH55</text>
<text transform="translate(661.43,741.8) rotate(-90)" text-anchor="end">GH154</text>
</g>
<g font-size="9.3">
<text x="667.1" y="145.09" fill="#F07A2E" stroke="#F07A2E" stroke-width="0.2" xml:space="preserve"><tspan font-style="italic">B. animalis</tspan><tspan> subsp. </tspan><tspan font-style="italic">lactis</tspan><tspan> B420− Human</tspan></text>
<text x="667.1" y="154.09" fill="#20E2EA" stroke="#20E2EA" stroke-width="0.2" xml:space="preserve"><tspan font-style="italic">B. animalis</tspan><tspan> subsp. </tspan><tspan font-style="italic">lactis</tspan><tspan> BLC1− Probiotic</tspan></text>
<text x="667.1" y="163.09" fill="#F07A2E" stroke="#F07A2E" stroke-width="0.2" xml:space="preserve"><tspan font-style="italic">B. animalis</tspan><tspan> subsp. </tspan><tspan font-style="italic">lactis</tspan><tspan> BI12− Human</tspan></text>
<text x="667.1" y="172.08" fill="#1A8A1A" stroke="#1A8A1A" stroke-width="0.2" xml:space="preserve"><tspan font-style="italic">B. animalis</tspan><tspan> subsp. </tspan><tspan font-style="italic">lactis</tspan><tspan> ATCC27536−Chicken</tspan></text>
<text x="667.1" y="181.07" fill="#20E2EA" stroke="#20E2EA" stroke-width="0.2" xml:space="preserve"><tspan font-style="italic">B. animalis</tspan><tspan> subsp. </tspan><tspan font-style="italic">lactis</tspan><tspan> CNCM I−2494− Dairy product</tspan></text>
<text x="667.1" y="190.07" fill="#F2929C" stroke="#F2929C" stroke-width="0.2" xml:space="preserve"><tspan font-style="italic">B. animalis</tspan><tspan> subsp. </tspan><tspan font-style="italic">animalis</tspan><tspan> YL2− Rodent</tspan></text>
<text x="667.1" y="199.06" fill="#F07A2E" stroke="#F07A2E" stroke-width="0.2" xml:space="preserve"><tspan font-style="italic">B. animalis</tspan><tspan> subsp. </tspan><tspan font-style="italic">animalis</tspan><tspan> MCC 1489− Pig</tspan></text>
<text x="667.1" y="208.06" fill="#F07A2E" stroke="#F07A2E" stroke-width="0.2" xml:space="preserve"><tspan font-style="italic">B. animalis</tspan><tspan> subsp. </tspan><tspan font-style="italic">animalis</tspan><tspan> IM386− Human</tspan></text>
<text x="667.1" y="217.05" fill="#8C5A3C" stroke="#8C5A3C" stroke-width="0.2" xml:space="preserve"><tspan font-style="italic">B. animalis</tspan><tspan> subsp. </tspan><tspan font-style="italic">lactis</tspan><tspan> ATCC 27673− Sewage</tspan></text>
<text x="667.1" y="226.05" fill="#F2929C" stroke="#F2929C" stroke-width="0.2" xml:space="preserve"><tspan font-style="italic">B. animalis</tspan><tspan> subsp. </tspan><tspan font-style="italic">animalis</tspan><tspan> ATCC 27672− Rodent</tspan></text>
<text x="667.1" y="235.04" fill="#F2929C" stroke="#F2929C" stroke-width="0.2" xml:space="preserve"><tspan font-style="italic">B. animalis</tspan><tspan> subsp. </tspan><tspan font-style="italic">animalis</tspan><tspan> MCC 0483− Rodent</tspan></text>
<text x="667.1" y="244.04" fill="#1A8A1A" stroke="#1A8A1A" stroke-width="0.2" xml:space="preserve"><tspan font-style="italic">B. pseudolongum</tspan><tspan> subsp. </tspan><tspan font-style="italic">globosum</tspan><tspan> 1691B− Hippopotamus</tspan></text>
<text x="667.1" y="253.03" fill="#1A8A1A" stroke="#1A8A1A" stroke-width="0.2" xml:space="preserve"><tspan font-style="italic">B. pseudolongum</tspan><tspan> subsp. </tspan><tspan font-style="italic">globosum</tspan><tspan> 1744B− Bear</tspan></text>
<text x="667.1" y="262.03" fill="#1A8A1A" stroke="#1A8A1A" stroke-width="0.2" xml:space="preserve"><tspan font-style="italic">B. pseudolongum</tspan><tspan> subsp. </tspan><tspan font-style="italic">globosum</tspan><tspan> LMG 11569− Bos taurus</tspan></text>
<text x="667.1" y="271.02" fill="#1A8A1A" stroke="#1A8A1A" stroke-width="0.2" xml:space="preserve"><tspan font-style="italic">B. pseudolongum</tspan><tspan> subsp. </tspan><tspan font-style="italic">globosum</tspan><tspan> DSM 20092− Bovine</tspan></text>
<text x="667.1" y="280.02" fill="#F07A2E" stroke="#F07A2E" stroke-width="0.2" xml:space="preserve"><tspan font-style="italic">B. pseudolongum</tspan><tspan> subsp. </tspan><tspan font-style="italic">pseudolongum</tspan><tspan> 1370B− Pig</tspan></text>
<text x="667.1" y="289.01" fill="#1A8A1A" stroke="#1A8A1A" stroke-width="0.2" xml:space="preserve"><tspan font-style="italic">B. pseudolongum</tspan><tspan> subsp. </tspan><tspan font-style="italic">globosum</tspan><tspan> 1549B− Chicken</tspan></text>
<text x="667.1" y="298.01" fill="#F2929C" stroke="#F2929C" stroke-width="0.2" xml:space="preserve"><tspan font-style="italic">B. pseudolongum</tspan><tspan> subsp. </tspan><tspan font-style="italic">globosum</tspan><tspan> 1524B− Rodent</tspan></text>
<text x="667.1" y="307.00" fill="#F07A2E" stroke="#F07A2E" stroke-width="0.2" xml:space="preserve"><tspan>B. pseudolongum</tspan><tspan> subsp. </tspan><tspan font-style="italic">pseudolongum</tspan><tspan> 2054B− Dog</tspan></text>
<text x="667.1" y="316.00" fill="#F2929C" stroke="#F2929C" stroke-width="0.2" xml:space="preserve"><tspan>B. pseudolongum</tspan><tspan> subsp. </tspan><tspan font-style="italic">globosum</tspan><tspan> 1520B− Rodent</tspan></text>
<text x="667.1" y="324.99" fill="#1A8A1A" stroke="#1A8A1A" stroke-width="0.2" xml:space="preserve"><tspan font-style="italic">B. pseudolongum</tspan><tspan> subsp. </tspan><tspan font-style="italic">globosum</tspan><tspan> 1619B− Llama</tspan></text>
<text x="667.1" y="333.99" fill="#F07A2E" stroke="#F07A2E" stroke-width="0.2" xml:space="preserve"><tspan font-style="italic">B. thermophilum</tspan><tspan> DSM 20210− Pig</tspan></text>
<text x="667.1" y="342.98" fill="#1A8A1A" stroke="#1A8A1A" stroke-width="0.2" xml:space="preserve"><tspan font-style="italic">B. thermophilum</tspan><tspan> DSM 20212− Bovine</tspan></text>
<text x="667.1" y="351.98" fill="#F07A2E" stroke="#F07A2E" stroke-width="0.2" xml:space="preserve"><tspan font-style="italic">B. thermophilum</tspan><tspan> RBL67− Human</tspan></text>
<text x="667.1" y="360.97" fill="#F07A2E" stroke="#F07A2E" stroke-width="0.2" xml:space="preserve"><tspan font-style="italic">B. thermophilum</tspan><tspan> 1542B− Pig</tspan></text>
<text x="667.1" y="369.97" fill="#F07A2E" stroke="#F07A2E" stroke-width="0.2" xml:space="preserve"><tspan font-style="italic">B. thermophilum</tspan><tspan>  JCM  1207 Pig</tspan></text>
<text x="667.1" y="378.96" fill="#F07A2E" stroke="#F07A2E" stroke-width="0.2" xml:space="preserve"><tspan font-style="italic">B. thermophilum</tspan><tspan> 1543B− Pig</tspan></text>
<text x="667.1" y="387.96" fill="#1C1CE6" stroke="#1C1CE6" stroke-width="0.2" xml:space="preserve"><tspan font-style="italic">B. breve</tspan><tspan> S27− Infant</tspan></text>
<text x="667.1" y="396.95" fill="#1C1CE6" stroke="#1C1CE6" stroke-width="0.2" xml:space="preserve"><tspan font-style="italic">B. breve</tspan><tspan> B2150− Infant</tspan></text>
<text x="667.1" y="405.95" fill="#1C1CE6" stroke="#1C1CE6" stroke-width="0.2" xml:space="preserve"><tspan font-style="italic">B. breve</tspan><tspan> CECT 7263− Human milk</tspan></text>
<text x="667.1" y="414.94" fill="#F07A2E" stroke="#F07A2E" stroke-width="0.2" xml:space="preserve"><tspan font-style="italic">B. breve</tspan><tspan> ACS−071−V−Sch8b− Human</tspan></text>
<text x="667.1" y="423.94" fill="#1C1CE6" stroke="#1C1CE6" stroke-width="0.2" xml:space="preserve"><tspan font-style="italic">B. breve</tspan><tspan>  UCC2003− Infant</tspan></text>
<text x="667.1" y="432.93" fill="#F07A2E" stroke="#F07A2E" stroke-width="0.2" xml:space="preserve"><tspan font-style="italic">B. breve</tspan><tspan> JCM 7019− Human</tspan></text>
<text x="667.1" y="441.93" fill="#1C1CE6" stroke="#1C1CE6" stroke-width="0.2" xml:space="preserve"><tspan font-style="italic">B. breve</tspan><tspan> DSM 20213− Infant</tspan></text>
<text x="667.1" y="450.92" fill="#1C1CE6" stroke="#1C1CE6" stroke-width="0.2" xml:space="preserve"><tspan font-style="italic">B. breve</tspan><tspan> B7212− Infant</tspan></text>
<text x="667.1" y="459.92" fill="#F07A2E" stroke="#F07A2E" stroke-width="0.2" xml:space="preserve"><tspan font-style="italic">B. bifidum</tspan><tspan> B7298− Human</tspan></text>
<text x="667.1" y="468.91" fill="#1C1CE6" stroke="#1C1CE6" stroke-width="0.2" xml:space="preserve"><tspan font-style="italic">B. bifidum</tspan><tspan> B2662− Infant</tspan></text>
<text x="667.1" y="477.91" fill="#1A8A1A" stroke="#1A8A1A" stroke-width="0.2" xml:space="preserve"><tspan font-style="italic">B. bifidum</tspan><tspan> VT188− Calf</tspan></text>
<text x="667.1" y="486.90" fill="#1C1CE6" stroke="#1C1CE6" stroke-width="0.2" xml:space="preserve"><tspan font-style="italic">B. bifidum</tspan><tspan> B2009− Infant</tspan></text>
<text x="667.1" y="495.90" fill="#F07A2E" stroke="#F07A2E" stroke-width="0.2" xml:space="preserve"><tspan font-style="italic">B. bifidum</tspan><tspan> B7313− Human</tspan></text>
<text x="667.1" y="504.89" fill="#20E2EA" stroke="#20E2EA" stroke-width="0.2" xml:space="preserve"><tspan font-style="italic">B. longum</tspan><tspan> subsp. </tspan><tspan font-style="italic">infantis</tspan><tspan> BIC1307292462− Probiotic</tspan></text>
<text x="667.1" y="513.89" fill="#20E2EA" stroke="#20E2EA" stroke-width="0.2" xml:space="preserve"><tspan font-style="italic">B. longum</tspan><tspan> subsp. </tspan><tspan font-style="italic">infantis</tspan><tspan> BIC1401212621b− Probiotic</tspan></text>
<text x="667.1" y="522.88" fill="#F07A2E" stroke="#F07A2E" stroke-width="0.2" xml:space="preserve"><tspan font-style="italic">B. longum</tspan><tspan> subsp. </tspan><tspan font-style="italic">infantis</tspan><tspan> BT1− Human</tspan></text>
<text x="667.1" y="531.88" fill="#8C5A3C" stroke="#8C5A3C" stroke-width="0.2" xml:space="preserve"><tspan font-style="italic">B. adolescentis</tspan><tspan> UBA2084− Sewage</tspan></text>
<text x="667.1" y="540.87" fill="#1A8A1A" stroke="#1A8A1A" stroke-width="0.2" xml:space="preserve"><tspan font-style="italic">B. longum</tspan><tspan> subsp. </tspan><tspan font-style="italic">suis</tspan><tspan> VT155− Calf</tspan></text>
<text x="667.1" y="549.87" fill="#1A8A1A" stroke="#1A8A1A" stroke-width="0.2" xml:space="preserve"><tspan font-style="italic">B. longum</tspan><tspan> subsp. </tspan><tspan font-style="italic">suis</tspan><tspan> VT247− Calf</tspan></text>
<text x="667.1" y="558.86" fill="#F07A2E" stroke="#F07A2E" stroke-width="0.2" xml:space="preserve"><tspan font-style="italic">B. longum</tspan><tspan> subsp. </tspan><tspan font-style="italic">suis</tspan><tspan> SU851− Pig</tspan></text>
<text x="667.1" y="567.86" fill="#F07A2E" stroke="#F07A2E" stroke-width="0.2" xml:space="preserve"><tspan font-style="italic">B. longum</tspan><tspan> subsp. </tspan><tspan font-style="italic">suis</tspan><tspan> DSM 20211− Pig</tspan></text>
<text x="667.1" y="576.85" fill="#F07A2E" stroke="#F07A2E" stroke-width="0.2" xml:space="preserve"><tspan font-style="italic">B. longum</tspan><tspan> subsp. </tspan><tspan font-style="italic">suis</tspan><tspan> LMG 21814− Pig</tspan></text>
<text x="667.1" y="585.85" fill="#1A8A1A" stroke="#1A8A1A" stroke-width="0.2" xml:space="preserve"><tspan font-style="italic">B. pseudocatenulatum</tspan><tspan> 1E− Calf</tspan></text>
<text x="667.1" y="594.84" fill="#F07A2E" stroke="#F07A2E" stroke-width="0.2" xml:space="preserve"><tspan font-style="italic">B. pseudocatenulatum</tspan><tspan> IPLA36007− Human</tspan></text>
<text x="667.1" y="603.84" fill="#F07A2E" stroke="#F07A2E" stroke-width="0.2" xml:space="preserve"><tspan font-style="italic">B. longum</tspan><tspan> subsp. </tspan><tspan font-style="italic">infantis</tspan><tspan> CECT 7210− Human</tspan></text>
<text x="667.1" y="612.83" fill="#1C1CE6" stroke="#1C1CE6" stroke-width="0.2" xml:space="preserve"><tspan font-style="italic">B. longum</tspan><tspan> subsp. </tspan><tspan font-style="italic">suis</tspan><tspan> BSM11−5− Infant</tspan></text>
<text x="667.1" y="621.83" fill="#F07A2E" stroke="#F07A2E" stroke-width="0.2" xml:space="preserve"><tspan font-style="italic">B. adolescentis</tspan><tspan>  22L− Human</tspan></text>
<text x="667.1" y="630.82" fill="#1A8A1A" stroke="#1A8A1A" stroke-width="0.2" xml:space="preserve"><tspan font-style="italic">B. adolescentis</tspan><tspan> LMG 11579− Bos taurus</tspan></text>
<text x="667.1" y="639.82" fill="#F07A2E" stroke="#F07A2E" stroke-width="0.2" xml:space="preserve"><tspan font-style="italic">B. adolescentis</tspan><tspan> BBMN23− Human</tspan></text>
<text x="667.1" y="648.81" fill="#1A8A1A" stroke="#1A8A1A" stroke-width="0.2" xml:space="preserve"><tspan font-style="italic">B. pseudolongum</tspan><tspan> subsp. </tspan><tspan font-style="italic">globosum</tspan><tspan> 1747B− Giraffe</tspan></text>
<text x="667.1" y="657.81" fill="#1A8A1A" stroke="#1A8A1A" stroke-width="0.2" xml:space="preserve"><tspan font-style="italic">B. pseudolongum</tspan><tspan> subsp. </tspan><tspan font-style="italic">globosum</tspan><tspan>  1734B− Wallaby</tspan></text>
<text x="667.1" y="666.80" fill="#1A8A1A" stroke="#1A8A1A" stroke-width="0.2" xml:space="preserve"><tspan font-style="italic">B. pseudolongum</tspan><tspan> subsp. </tspan><tspan font-style="italic">pseudolongum</tspan><tspan> 1629B− Tapir</tspan></text>
<text x="667.1" y="675.80" fill="#F07A2E" stroke="#F07A2E" stroke-width="0.2" xml:space="preserve"><tspan font-style="italic">B. pseudocatenulatum</tspan><tspan> 12− Human</tspan></text>
<text x="667.1" y="684.79" fill="#E020E6" stroke="#E020E6" stroke-width="0.2" xml:space="preserve"><tspan font-style="italic">B. moukalabense</tspan><tspan> EB43− African forest elephant</tspan></text>
<text x="667.1" y="693.79" fill="#E020E6" stroke="#E020E6" stroke-width="0.2" xml:space="preserve"><tspan font-style="italic">B. moukalabense</tspan><tspan> CD14− Chimpanzee central</tspan></text>
<text x="667.1" y="702.78" fill="#E020E6" stroke="#E020E6" stroke-width="0.2" xml:space="preserve"><tspan font-style="italic">B. moukalabense</tspan><tspan> GG01− Western lowland gorilla</tspan></text>
<text x="667.1" y="711.78" fill="#E020E6" stroke="#E020E6" stroke-width="0.2" xml:space="preserve"><tspan font-style="italic">B. moukalabense</tspan><tspan> EB44− African forest elephant</tspan></text>
<text x="667.1" y="720.77" fill="#E020E6" stroke="#E020E6" stroke-width="0.2" xml:space="preserve"><tspan font-style="italic">B. moukalabense</tspan><tspan> CD16− Chimpanzee central</tspan></text>
<text x="667.1" y="729.77" fill="#E020E6" stroke="#E020E6" stroke-width="0.2" xml:space="preserve"><tspan font-style="italic">B. moukalabense</tspan><tspan> GB01− Western lowland gorilla</tspan></text>
</g>
<rect x="923.2" y="136.2" width="6.5" height="97.1" fill="#FB7E7E"/>
<rect x="923.2" y="233.3" width="6.5" height="89.5" fill="#078A07"/>
<rect x="923.2" y="322.8" width="6.5" height="53.0" fill="#F7701C"/>
<rect x="923.2" y="375.8" width="6.5" height="70.6" fill="#0A0AF2"/>
<rect x="923.2" y="446.4" width="6.5" height="124.5" fill="#F7701C"/>
<rect x="923.2" y="570.9" width="6.5" height="98.8" fill="#078A07"/>
<rect x="923.2" y="669.7" width="6.5" height="51.7" fill="#F00CF0"/>
<g font-size="21" font-weight="bold" fill="#111">
<text transform="translate(954.6,191.2) scale(0.909,1)">Cluster (vii)</text>
<text transform="translate(954.6,279.4) scale(0.909,1)">Cluster (vi)</text>
<text transform="translate(954.6,353.7) scale(0.909,1)">Cluster (v)</text>
<text transform="translate(954.6,412.5) scale(0.909,1)">Cluster (iv)</text>
<text transform="translate(954.6,511.8) scale(0.909,1)">Cluster (iii)</text>
<text transform="translate(954.6,619.0) scale(0.909,1)">Cluster (ii)</text>
<text transform="translate(954.6,699.4) scale(0.909,1)">Cluster (i)</text>
</g>
<rect x="742.9" y="7.2" width="303.6" height="111.4" fill="#fff" stroke="#3a3a3a" stroke-width="1.5"/>
<g font-size="13" fill="#262626" stroke="#262626" stroke-width="0.2">
<circle cx="752" cy="15.1" r="3.9" fill="#0A7A0A" stroke="none"/>
<text x="764" y="20.2">Herbivore</text>
<circle cx="752" cy="30.9" r="3.9" fill="#F48080" stroke="none"/>
<text x="764" y="36.0">Granivore</text>
<circle cx="752" cy="46.1" r="3.9" fill="#F80CF8" stroke="none"/>
<text x="764" y="50.8">Opportunistic omnivore eating insects and fruits</text>
<circle cx="752" cy="61.9" r="3.9" fill="#F96A0E" stroke="none"/>
<text x="764" y="68.2">Omnivore</text>
<circle cx="752" cy="77.8" r="3.9" fill="#0A0AEE" stroke="none"/>
<text x="764" y="83.5">Infant food</text>
<circle cx="752" cy="92.9" r="3.9" fill="#14F0F0" stroke="none"/>
<text x="764" y="98.1">Commercial probiotic</text>
<circle cx="752" cy="108.0" r="3.9" fill="#A3410B" stroke="none"/>
<text x="764" y="113.2">Sewage</text>
</g>
<defs><linearGradient id="rk" x1="0" x2="1" y1="0" y2="0">
<stop offset="0.000" stop-color="#FFF5F0"/>
<stop offset="0.070" stop-color="#FFEEE6"/>
<stop offset="0.170" stop-color="#FDDCCC"/>
<stop offset="0.280" stop-color="#FCC0A8"/>
<stop offset="0.380" stop-color="#FCA084"/>
<stop offset="0.500" stop-color="#FB7A5A"/>
<stop offset="0.610" stop-color="#F65A40"/>
<stop offset="0.700" stop-color="#EE4030"/>
<stop offset="0.760" stop-color="#E8322A"/>
<stop offset="0.860" stop-color="#C81A1E"/>
<stop offset="0.940" stop-color="#A80E16"/>
<stop offset="1.000" stop-color="#950010"/>
</linearGradient></defs>
<text x="83.6" y="43.2" font-size="10.3" font-weight="bold" text-anchor="middle" fill="#111">Color Key</text>
<rect x="42.8" y="49.2" width="81.4" height="34.6" fill="url(#rk)"/>
<path d="M43.4 84.2H124.2M43.4 84.2V89.4M67.1 84.2V89.4M90.9 84.2V89.4M114.6 84.2V89.4" stroke="#444" stroke-width="0.9" fill="none"/>
<g font-size="9.2" text-anchor="middle" fill="#111" stroke="#111" stroke-width="0.35">
<text x="43.4" y="103.8">0</text>
<text x="67.1" y="103.8">5</text>
<text x="90.9" y="103.8">10</text>
<text x="114.6" y="103.8">15</text>
<text x="83.6" y="117.6">Value</text>
</g>
</svg></body></html>
